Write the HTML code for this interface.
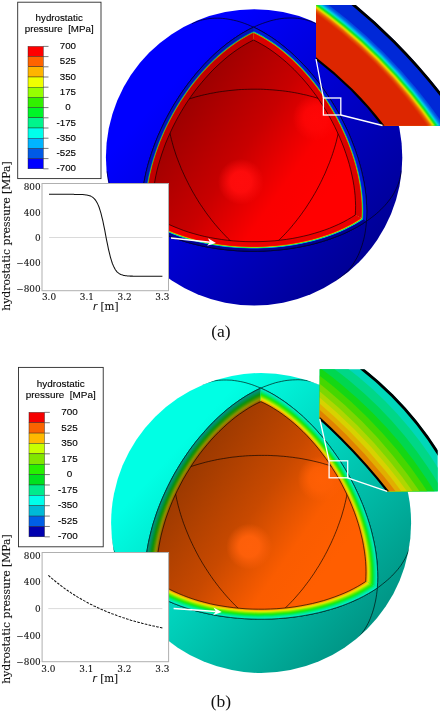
<!DOCTYPE html>
<html><head><meta charset="utf-8"><title>hydrostatic pressure</title>
<style>
html,body{margin:0;padding:0;background:#fff;}
svg{display:block;}
.sans{font-family:"Liberation Sans",sans-serif;fill:#000;stroke:#000;stroke-width:0.12px;}
.dserif{font-family:"DejaVu Serif","Liberation Serif",serif;fill:#111;stroke:#111;stroke-width:0.1px;}
.lserif{font-family:"Liberation Serif",serif;fill:#111;}
</style></head><body>
<svg width="440" height="713" viewBox="0 0 440 713">
<rect width="440" height="713" fill="#fff"/>
<linearGradient id="a_og" gradientUnits="userSpaceOnUse" x1="173" y1="83" x2="362" y2="256.6">
<stop offset="0" stop-color="#0000ff"/><stop offset="1" stop-color="#000096"/></linearGradient>
<clipPath id="a_sil"><circle cx="254.10" cy="157.40" r="148.20"/></clipPath>
<circle cx="254.10" cy="157.40" r="148.20" fill="url(#a_og)"/>
<g clip-path="url(#a_sil)">
<path d="M191.9 23.7 193.9 22.8 196.1 21.9 198.2 21.1 200.5 20.4 202.7 19.8 205.1 19.3 207.4 18.9 209.9 18.5 212.3 18.3 214.8 18.2 217.4 18.2 220.0 18.2 222.6 18.4 225.3 18.7 228.0 19.1 230.7 19.6 233.5 20.2 236.3 20.8 239.1 21.6 242.0 22.5 244.8 23.5 247.7 24.6 250.6 25.9 253.6 27.2 256.5 28.6 259.5 30.1 262.4 31.7 265.4 33.5 268.4 35.3 271.3 37.2 274.3 39.2 277.3 41.3 280.2 43.6 283.2 45.9 286.1 48.3 289.0 50.8 291.9 53.3 294.8 56.0 297.7 58.8 300.5 61.6 303.3 64.5 306.1 67.5 308.8 70.6 311.5 73.7 314.2 76.9 316.8 80.2 319.4 83.5 321.9 86.9 324.4 90.4 326.8 93.9 329.2 97.5 331.5 101.1 333.8 104.8 336.0 108.5 338.1 112.2 340.2 116.0 342.2 119.8 344.1 123.6 346.0 127.5 347.8 131.4 349.5 135.2 351.1 139.2 352.7 143.1 354.2 147.0 355.6 150.9 356.9 154.8 358.2 158.8 359.3 162.7 360.4 166.6 361.4 170.5 362.3 174.3 363.2 178.2 363.9 182.0 364.6 185.8 365.1 189.5 365.6 193.2 366.0 196.9 366.3 200.5 366.6 204.1 366.7 207.6 366.8 211.1 366.7 214.6 366.6 217.9 366.4 221.2 366.2 224.5 365.8 227.7 365.4 230.8 364.9 233.9 364.3 236.9 363.6 239.8 362.8 242.6 362.0 245.4 361.1 248.0 360.1 250.7 359.1 253.2 358.0 255.6 356.8 258.0 355.5 260.2 354.2 262.4 352.8 264.5 351.4 266.5 349.9 268.5 348.3 270.3 346.7 272.0 345.0 273.7 343.3 275.2 341.5 276.7 339.6 278.1 337.8 279.4" fill="none" stroke="#000" stroke-opacity="0.90" stroke-width="0.70"/>
<path d="M401.2 170.6 401.0 172.8 400.6 175.0 400.2 177.3 399.7 179.5 399.0 181.7 398.3 183.9 397.4 186.2 396.4 188.4 395.3 190.6 394.2 192.8 392.9 195.0 391.5 197.1 389.9 199.3 388.3 201.4 386.6 203.5 384.8 205.6 382.8 207.6 380.8 209.7 378.7 211.7 376.4 213.7 374.1 215.6 371.6 217.5 369.1 219.4 366.4 221.2 363.7 223.0 360.9 224.8 358.0 226.5 354.9 228.2 351.8 229.8 348.7 231.4 345.4 232.9 342.0 234.4 338.6 235.8 335.1 237.2 331.5 238.5 327.9 239.8 324.1 241.0 320.4 242.1 316.5 243.2 312.6 244.2 308.7 245.2 304.7 246.0 300.6 246.9 296.5 247.6 292.4 248.3 288.2 248.9 284.0 249.5 279.8 249.9 275.5 250.3 271.3 250.7 267.0 250.9 262.7 251.1 258.4 251.2 254.1 251.3 249.8 251.3 245.4 251.2 241.1 251.0 236.9 250.8 232.6 250.4 228.3 250.1 224.1 249.6 219.9 249.1 215.7 248.5 211.6 247.8 207.5 247.1 203.5 246.3 199.5 245.4 195.5 244.5 191.6 243.5 187.8 242.4 184.0 241.3 180.3 240.1 176.6 238.9 173.1 237.6 169.5 236.2 166.1 234.8 162.8 233.4 159.5 231.9 156.3 230.3 153.2 228.7 150.2 227.0 147.3 225.3 144.4 223.6 141.7 221.8 139.1 220.0 136.5 218.1 134.1 216.2 131.7 214.3 129.5 212.3 127.4 210.3 125.3 208.3 123.4 206.2 121.6 204.2 119.8 202.1 118.2 199.9 116.7 197.8 115.3 195.6 114.0 193.5 112.8 191.3 111.8 189.1 110.8 186.9 109.9 184.7 109.2 182.4 108.5 180.2 108.0 178.0 107.5 175.8 107.2 173.5 107.0 171.3" fill="none" stroke="#000" stroke-opacity="0.90" stroke-width="0.70"/>
<path d="M169.0 278.5 167.2 277.1 165.4 275.7 163.6 274.1 161.9 272.5 160.3 270.7 158.7 268.9 157.2 267.0 155.7 265.0 154.3 262.9 153.0 260.7 151.7 258.5 150.5 256.1 149.3 253.7 148.3 251.2 147.3 248.6 146.3 245.9 145.5 243.1 144.7 240.3 144.0 237.4 143.4 234.4 142.9 231.4 142.4 228.2 142.0 225.0 141.7 221.8 141.5 218.5 141.4 215.1 141.3 211.7 141.3 208.2 141.5 204.7 141.7 201.1 142.0 197.4 142.3 193.8 142.8 190.1 143.3 186.3 144.0 182.5 144.7 178.7 145.5 174.9 146.4 171.0 147.4 167.1 148.4 163.2 149.5 159.3 150.8 155.4 152.1 151.4 153.5 147.5 154.9 143.6 156.5 139.7 158.1 135.7 159.8 131.8 161.6 128.0 163.4 124.1 165.3 120.2 167.3 116.4 169.3 112.6 171.5 108.9 173.6 105.2 175.9 101.5 178.2 97.9 180.5 94.3 182.9 90.8 185.4 87.3 187.9 83.9 190.5 80.5 193.1 77.2 195.7 74.0 198.4 70.9 201.1 67.8 203.9 64.8 206.7 61.8 209.5 59.0 212.4 56.2 215.2 53.5 218.1 50.9 221.1 48.4 224.0 46.0 226.9 43.7 229.9 41.5 232.8 39.3 235.8 37.3 238.8 35.4 241.7 33.5 244.7 31.8 247.7 30.1 250.6 28.6 253.6 27.2 256.5 25.8 259.4 24.6 262.3 23.5 265.2 22.5 268.0 21.6 270.9 20.7 273.7 20.0 276.5 19.4 279.2 18.9 281.9 18.5 284.6 18.2 287.2 18.1 289.8 18.0 292.4 18.0 294.9 18.1 297.4 18.3 299.8 18.6 302.2 19.0 304.6 19.5 306.8 20.1 309.1 20.8 311.3 21.6 313.4 22.4 315.5 23.4" fill="none" stroke="#000" stroke-opacity="0.90" stroke-width="0.70"/>
<path d="M253.6 27.2 249.0 29.4 244.5 31.9 239.9 34.6 235.4 37.6 230.8 40.8 226.2 44.2 221.7 47.9 217.2 51.7 212.8 55.8 208.4 60.1 204.1 64.5 199.9 69.2 195.7 74.0 191.7 79.0 187.7 84.1 183.9 89.4 180.2 94.8 176.6 100.4 173.1 106.0 169.8 111.8 166.7 117.6 163.7 123.5 160.9 129.4 158.2 135.4 155.7 141.5 153.5 147.5 151.4 153.6 149.5 159.6 147.7 165.6 146.2 171.6 144.9 177.5 143.8 183.4 142.9 189.2 142.2 194.9 141.7 200.5 141.4 206.0 141.3 211.4 141.4 216.7 141.7 221.8 146.0 224.5 150.4 227.2 155.1 229.7 160.0 232.1 165.1 234.4 170.3 236.6 175.8 238.6 181.4 240.5 187.2 242.3 193.1 243.9 199.2 245.3 205.3 246.7 211.6 247.8 218.0 248.8 224.4 249.6 230.9 250.3 237.5 250.8 244.1 251.1 250.7 251.3 257.4 251.3 264.0 251.1 270.6 250.7 277.2 250.2 283.7 249.5 290.2 248.6 296.5 247.6 302.8 246.4 309.0 245.1 315.0 243.6 321.0 241.9 326.7 240.2 332.3 238.2 337.8 236.2 343.1 234.0 348.2 231.6 353.0 229.2 357.7 226.7 362.2 224.0 366.4 221.2 366.7 216.1 366.8 210.9 366.6 205.5 366.3 200.0 365.8 194.3 365.0 188.6 364.1 182.8 362.9 177.0 361.6 171.1 360.0 165.1 358.3 159.1 356.3 153.0 354.2 147.0 351.9 141.0 349.4 134.9 346.7 129.0 343.8 123.0 340.8 117.1 337.6 111.3 334.3 105.6 330.8 100.0 327.2 94.5 323.5 89.1 319.6 83.8 315.6 78.7 311.5 73.7 307.4 68.9 303.1 64.3 298.8 59.8 294.4 55.6 289.9 51.5 285.4 47.7 280.9 44.1 276.4 40.7 271.8 37.5 267.2 34.6 262.7 31.9 258.1 29.4Z" fill="rgb(0,25,215)"/>
<path d="M254.1 157.7 253.6 27.2 249.0 29.4 244.5 31.9 239.9 34.6 235.4 37.6 230.8 40.8 226.2 44.2 221.7 47.9 217.2 51.7 212.8 55.8 208.4 60.1 204.1 64.5 199.9 69.2 195.7 74.0 191.7 79.0 187.7 84.1 183.9 89.4 180.2 94.8 176.6 100.4 173.1 106.0 169.8 111.8 166.7 117.6 163.7 123.5 160.9 129.4 158.2 135.4 155.7 141.5 153.5 147.5 151.4 153.6 149.5 159.6 147.7 165.6 146.2 171.6 144.9 177.5 143.8 183.4 142.9 189.2 142.2 194.9 141.7 200.5 141.4 206.0 141.3 211.4 141.4 216.7 141.7 221.8Z" fill="rgb(0,19,189)"/>
<path d="M254.1 157.7 253.6 30.4 249.2 32.6 244.7 35.1 240.3 37.7 235.8 40.6 231.4 43.8 227.0 47.1 222.5 50.7 218.2 54.4 213.9 58.4 209.6 62.6 205.4 66.9 201.3 71.4 197.2 76.1 193.3 81.0 189.4 86.0 185.7 91.2 182.1 96.5 178.6 101.9 175.2 107.4 172.0 112.9 168.9 118.6 166.0 124.4 163.3 130.2 160.7 136.0 158.3 141.9 156.0 147.8 154.0 153.7 152.1 159.6 150.5 165.4 149.0 171.2 147.7 177.0 146.6 182.7 145.7 188.4 145.0 194.0 144.5 199.4 144.2 204.8 144.1 210.1 144.2 215.2 144.5 220.2Z" fill="rgb(0,23,187)"/>
<path d="M254.1 157.7 253.6 30.7 249.2 32.9 244.7 35.3 240.3 38.0 235.9 40.9 231.4 44.0 227.0 47.3 222.6 50.9 218.3 54.6 213.9 58.6 209.7 62.8 205.5 67.1 201.4 71.6 197.3 76.3 193.4 81.2 189.6 86.2 185.8 91.3 182.2 96.6 178.7 102.0 175.4 107.5 172.2 113.0 169.1 118.7 166.2 124.4 163.5 130.2 160.9 136.1 158.5 141.9 156.3 147.8 154.2 153.7 152.4 159.5 150.7 165.4 149.2 171.2 147.9 177.0 146.8 182.7 146.0 188.3 145.3 193.9 144.8 199.4 144.5 204.7 144.4 210.0 144.5 215.1 144.7 220.1Z" fill="rgb(0,28,186)"/>
<path d="M254.1 157.7 253.6 31.0 249.2 33.1 244.8 35.6 240.3 38.2 235.9 41.1 231.5 44.2 227.1 47.6 222.7 51.1 218.3 54.9 214.0 58.8 209.8 63.0 205.6 67.3 201.5 71.8 197.5 76.5 193.5 81.3 189.7 86.3 186.0 91.5 182.4 96.7 178.9 102.1 175.5 107.6 172.3 113.1 169.3 118.8 166.4 124.5 163.7 130.3 161.1 136.1 158.7 142.0 156.5 147.8 154.4 153.7 152.6 159.5 150.9 165.4 149.4 171.2 148.2 176.9 147.1 182.6 146.2 188.3 145.5 193.8 145.0 199.3 144.7 204.6 144.6 209.8 144.7 215.0 145.0 219.9Z" fill="rgb(0,40,183)"/>
<path d="M254.1 157.7 253.6 31.2 249.2 33.4 244.8 35.8 240.4 38.5 235.9 41.4 231.5 44.5 227.1 47.8 222.8 51.3 218.4 55.1 214.1 59.0 209.9 63.2 205.7 67.5 201.6 72.0 197.6 76.7 193.7 81.5 189.8 86.5 186.1 91.6 182.5 96.9 179.1 102.2 175.7 107.7 172.5 113.2 169.5 118.9 166.6 124.6 163.9 130.3 161.3 136.2 158.9 142.0 156.7 147.8 154.6 153.7 152.8 159.5 151.1 165.4 149.7 171.2 148.4 176.9 147.3 182.6 146.4 188.2 145.7 193.7 145.2 199.2 144.9 204.5 144.8 209.7 144.9 214.8 145.2 219.8Z" fill="rgb(0,67,175)"/>
<path d="M254.1 157.7 253.6 31.5 249.2 33.7 244.8 36.1 240.4 38.7 236.0 41.6 231.6 44.7 227.2 48.0 222.8 51.6 218.5 55.3 214.2 59.3 210.0 63.4 205.8 67.7 201.7 72.2 197.7 76.9 193.8 81.7 190.0 86.7 186.3 91.8 182.7 97.0 179.2 102.3 175.9 107.8 172.7 113.3 169.7 119.0 166.8 124.7 164.0 130.4 161.5 136.2 159.1 142.0 156.9 147.9 154.9 153.7 153.0 159.5 151.4 165.3 149.9 171.1 148.6 176.9 147.5 182.5 146.7 188.1 146.0 193.7 145.5 199.1 145.2 204.4 145.1 209.6 145.2 214.7 145.4 219.7Z" fill="rgb(0,121,190)"/>
<path d="M254.1 157.7 253.6 31.8 249.2 33.9 244.8 36.4 240.4 39.0 236.0 41.9 231.6 45.0 227.2 48.3 222.9 51.8 218.6 55.5 214.3 59.5 210.1 63.6 205.9 67.9 201.8 72.4 197.8 77.0 193.9 81.8 190.1 86.8 186.4 91.9 182.8 97.1 179.4 102.5 176.1 107.9 172.9 113.4 169.8 119.1 167.0 124.7 164.2 130.5 161.7 136.2 159.3 142.1 157.1 147.9 155.1 153.7 153.2 159.5 151.6 165.3 150.1 171.1 148.8 176.8 147.8 182.5 146.9 188.1 146.2 193.6 145.7 199.0 145.4 204.3 145.3 209.5 145.4 214.6 145.7 219.5Z" fill="rgb(0,192,164)"/>
<path d="M254.1 157.7 253.6 32.0 249.2 34.2 244.8 36.6 240.5 39.3 236.1 42.1 231.7 45.2 227.3 48.5 223.0 52.0 218.6 55.8 214.4 59.7 210.2 63.8 206.0 68.1 202.0 72.6 198.0 77.2 194.1 82.0 190.3 87.0 186.6 92.0 183.0 97.3 179.6 102.6 176.2 108.0 173.1 113.5 170.0 119.1 167.2 124.8 164.4 130.5 161.9 136.3 159.5 142.1 157.3 147.9 155.3 153.7 153.5 159.5 151.8 165.3 150.3 171.1 149.1 176.8 148.0 182.4 147.1 188.0 146.4 193.5 145.9 198.9 145.6 204.2 145.5 209.4 145.6 214.5 145.9 219.4Z" fill="rgb(11,185,21)"/>
<path d="M254.1 157.7 253.6 32.3 249.2 34.5 244.9 36.9 240.5 39.5 236.1 42.4 231.7 45.5 227.4 48.8 223.0 52.3 218.7 56.0 214.5 59.9 210.3 64.0 206.1 68.3 202.1 72.8 198.1 77.4 194.2 82.2 190.4 87.1 186.7 92.2 183.2 97.4 179.7 102.7 176.4 108.1 173.2 113.6 170.2 119.2 167.4 124.9 164.6 130.6 162.1 136.3 159.7 142.1 157.5 147.9 155.5 153.7 153.7 159.5 152.0 165.3 150.6 171.0 149.3 176.7 148.2 182.4 147.3 187.9 146.7 193.4 146.2 198.8 145.9 204.1 145.8 209.3 145.8 214.3 146.1 219.3Z" fill="rgb(151,194,0)"/>
<path d="M254.1 157.7 253.6 32.6 249.2 34.7 244.9 37.1 240.5 39.8 236.1 42.6 231.8 45.7 227.4 49.0 223.1 52.5 218.8 56.2 214.6 60.1 210.4 64.2 206.2 68.5 202.2 72.9 198.2 77.6 194.3 82.3 190.5 87.3 186.9 92.3 183.3 97.5 179.9 102.8 176.6 108.2 173.4 113.7 170.4 119.3 167.5 125.0 164.8 130.7 162.3 136.4 159.9 142.2 157.7 147.9 155.7 153.7 153.9 159.5 152.3 165.3 150.8 171.0 149.5 176.7 148.5 182.3 147.6 187.9 146.9 193.3 146.4 198.7 146.1 204.0 146.0 209.2 146.1 214.2 146.4 219.1Z" fill="rgb(194,120,0)"/>
<path d="M254.1 157.7 253.6 32.8 249.3 35.0 244.9 37.4 240.5 40.0 236.2 42.9 231.8 45.9 227.5 49.2 223.2 52.7 218.9 56.4 214.6 60.3 210.5 64.4 206.3 68.7 202.3 73.1 198.3 77.7 194.5 82.5 190.7 87.4 187.0 92.5 183.5 97.7 180.0 103.0 176.8 108.3 173.6 113.8 170.6 119.4 167.7 125.0 165.0 130.7 162.5 136.4 160.1 142.2 158.0 148.0 155.9 153.7 154.1 159.5 152.5 165.3 151.0 171.0 149.8 176.6 148.7 182.3 147.8 187.8 147.1 193.3 146.6 198.6 146.3 203.9 146.2 209.1 146.3 214.1 146.6 219.0Z" fill="rgb(194,50,0)"/>
<path d="M254.1 157.7 253.6 33.1 249.3 35.3 244.9 37.7 240.6 40.3 236.2 43.1 231.9 46.2 227.5 49.5 223.2 53.0 219.0 56.7 214.7 60.5 210.6 64.6 206.5 68.9 202.4 73.3 198.5 77.9 194.6 82.7 190.8 87.6 187.2 92.6 183.6 97.8 180.2 103.1 176.9 108.5 173.8 113.9 170.8 119.5 167.9 125.1 165.2 130.8 162.7 136.5 160.4 142.2 158.2 148.0 156.2 153.8 154.3 159.5 152.7 165.2 151.3 170.9 150.0 176.6 148.9 182.2 148.0 187.7 147.4 193.2 146.9 198.5 146.6 203.8 146.5 209.0 146.5 214.0 146.8 218.9Z" fill="rgb(194,10,0)"/>
<path d="M254.1 157.7 253.6 33.4 249.3 35.5 244.9 37.9 240.6 40.5 236.3 43.4 231.9 46.4 227.6 49.7 223.3 53.2 219.0 56.9 214.8 60.8 210.7 64.8 206.6 69.1 202.5 73.5 198.6 78.1 194.7 82.9 191.0 87.7 187.3 92.8 183.8 97.9 180.4 103.2 177.1 108.6 174.0 114.0 171.0 119.6 168.1 125.2 165.4 130.8 162.9 136.5 160.6 142.3 158.4 148.0 156.4 153.8 154.6 159.5 152.9 165.2 151.5 170.9 150.2 176.6 149.2 182.1 148.3 187.7 147.6 193.1 147.1 198.5 146.8 203.7 146.7 208.8 146.8 213.9 147.1 218.7Z" fill="rgb(194,0,0)"/>
<path d="M254.1 157.7 253.6 27.2 258.1 29.4 262.7 31.9 267.2 34.6 271.8 37.5 276.4 40.7 280.9 44.1 285.4 47.7 289.9 51.5 294.4 55.6 298.8 59.8 303.1 64.3 307.4 68.9 311.5 73.7 315.6 78.7 319.6 83.8 323.5 89.1 327.2 94.5 330.8 100.0 334.3 105.6 337.6 111.3 340.8 117.1 343.8 123.0 346.7 129.0 349.4 134.9 351.9 141.0 354.2 147.0 356.3 153.0 358.3 159.1 360.0 165.1 361.6 171.1 362.9 177.0 364.1 182.8 365.0 188.6 365.8 194.3 366.3 200.0 366.6 205.5 366.8 210.9 366.7 216.1 366.4 221.2Z" fill="rgb(0,25,215)"/>
<path d="M254.1 157.7 253.6 31.0 258.0 33.1 262.4 35.5 266.8 38.2 271.3 41.0 275.7 44.1 280.1 47.4 284.5 51.0 288.9 54.7 293.2 58.6 297.4 62.7 301.6 67.1 305.8 71.5 309.8 76.2 313.8 81.0 317.6 86.0 321.4 91.1 325.0 96.3 328.5 101.7 331.9 107.2 335.1 112.7 338.2 118.4 341.1 124.1 343.9 129.8 346.5 135.6 348.9 141.5 351.2 147.3 353.3 153.2 355.2 159.0 356.9 164.9 358.4 170.7 359.7 176.4 360.8 182.1 361.7 187.7 362.5 193.3 363.0 198.7 363.3 204.1 363.5 209.3 363.4 214.4 363.2 219.4Z" fill="rgb(0,59,203)"/>
<path d="M254.1 157.7 253.6 31.2 258.0 33.4 262.4 35.8 266.8 38.4 271.2 41.3 275.7 44.4 280.1 47.7 284.4 51.2 288.8 54.9 293.1 58.8 297.3 62.9 301.5 67.3 305.7 71.7 309.7 76.4 313.6 81.2 317.5 86.2 321.2 91.3 324.9 96.5 328.3 101.8 331.7 107.3 334.9 112.8 338.0 118.4 340.9 124.1 343.7 129.9 346.3 135.7 348.7 141.5 351.0 147.3 353.1 153.2 354.9 159.0 356.6 164.8 358.1 170.6 359.5 176.4 360.6 182.0 361.5 187.7 362.2 193.2 362.8 198.6 363.1 204.0 363.3 209.2 363.2 214.3 363.0 219.3Z" fill="rgb(0,97,203)"/>
<path d="M254.1 157.7 253.6 31.5 258.0 33.7 262.4 36.1 266.8 38.7 271.2 41.5 275.6 44.6 280.0 47.9 284.4 51.4 288.7 55.1 293.0 59.0 297.3 63.2 301.4 67.4 305.5 71.9 309.6 76.6 313.5 81.4 317.3 86.3 321.1 91.4 324.7 96.6 328.2 101.9 331.5 107.4 334.8 112.9 337.8 118.5 340.8 124.2 343.5 129.9 346.1 135.7 348.5 141.5 350.8 147.4 352.8 153.2 354.7 159.0 356.4 164.8 357.9 170.6 359.2 176.3 360.4 182.0 361.3 187.6 362.0 193.1 362.5 198.5 362.9 203.9 363.0 209.1 363.0 214.2 362.7 219.1Z" fill="rgb(0,162,217)"/>
<path d="M254.1 157.7 253.6 31.8 258.0 33.9 262.3 36.3 266.8 38.9 271.2 41.8 275.6 44.9 279.9 48.1 284.3 51.6 288.6 55.4 292.9 59.3 297.2 63.4 301.3 67.6 305.4 72.1 309.4 76.7 313.4 81.5 317.2 86.5 320.9 91.5 324.5 96.8 328.0 102.1 331.4 107.5 334.6 113.0 337.7 118.6 340.6 124.3 343.3 130.0 345.9 135.8 348.3 141.6 350.6 147.4 352.6 153.2 354.5 159.0 356.2 164.8 357.7 170.6 359.0 176.3 360.1 181.9 361.0 187.5 361.8 193.0 362.3 198.5 362.6 203.8 362.8 209.0 362.7 214.1 362.5 219.0Z" fill="rgb(0,215,161)"/>
<path d="M254.1 157.7 253.6 32.0 257.9 34.2 262.3 36.6 266.7 39.2 271.1 42.0 275.5 45.1 279.9 48.4 284.2 51.9 288.6 55.6 292.8 59.5 297.1 63.6 301.2 67.8 305.3 72.3 309.3 76.9 313.2 81.7 317.1 86.6 320.8 91.7 324.4 96.9 327.9 102.2 331.2 107.6 334.4 113.1 337.5 118.7 340.4 124.4 343.1 130.1 345.7 135.8 348.1 141.6 350.3 147.4 352.4 153.2 354.3 159.0 356.0 164.8 357.5 170.5 358.8 176.2 359.9 181.9 360.8 187.5 361.5 193.0 362.1 198.4 362.4 203.7 362.5 208.9 362.5 213.9 362.3 218.9Z" fill="rgb(15,209,22)"/>
<path d="M254.1 157.7 253.6 32.3 257.9 34.4 262.3 36.8 266.7 39.4 271.1 42.3 275.5 45.3 279.8 48.6 284.2 52.1 288.5 55.8 292.8 59.7 297.0 63.8 301.1 68.0 305.2 72.5 309.2 77.1 313.1 81.9 316.9 86.8 320.6 91.8 324.2 97.0 327.7 102.3 331.0 107.7 334.2 113.2 337.3 118.8 340.2 124.4 342.9 130.1 345.5 135.9 347.9 141.6 350.1 147.4 352.2 153.2 354.1 159.0 355.7 164.8 357.2 170.5 358.5 176.2 359.7 181.8 360.6 187.4 361.3 192.9 361.8 198.3 362.2 203.6 362.3 208.8 362.3 213.8 362.0 218.7Z" fill="rgb(154,219,0)"/>
<path d="M254.1 157.7 253.6 32.6 257.9 34.7 262.3 37.1 266.7 39.7 271.0 42.5 275.4 45.6 279.8 48.9 284.1 52.3 288.4 56.0 292.7 59.9 296.9 64.0 301.0 68.2 305.1 72.7 309.1 77.3 313.0 82.0 316.8 86.9 320.5 92.0 324.1 97.2 327.5 102.4 330.9 107.8 334.1 113.3 337.1 118.9 340.0 124.5 342.7 130.2 345.3 135.9 347.7 141.7 349.9 147.5 352.0 153.2 353.8 159.0 355.5 164.8 357.0 170.5 358.3 176.2 359.4 181.8 360.3 187.3 361.1 192.8 361.6 198.2 361.9 203.5 362.1 208.6 362.0 213.7 361.8 218.6Z" fill="rgb(219,159,0)"/>
<path d="M254.1 157.7 253.6 32.8 257.9 35.0 262.3 37.4 266.6 40.0 271.0 42.8 275.4 45.8 279.7 49.1 284.0 52.6 288.3 56.2 292.6 60.1 296.8 64.2 300.9 68.4 305.0 72.9 309.0 77.5 312.9 82.2 316.7 87.1 320.3 92.1 323.9 97.3 327.4 102.6 330.7 107.9 333.9 113.4 336.9 119.0 339.8 124.6 342.5 130.3 345.1 136.0 347.5 141.7 349.7 147.5 351.8 153.2 353.6 159.0 355.3 164.7 356.8 170.5 358.1 176.1 359.2 181.7 360.1 187.3 360.8 192.7 361.4 198.1 361.7 203.4 361.8 208.5 361.8 213.6 361.6 218.5Z" fill="rgb(219,84,0)"/>
<path d="M254.1 157.7 253.6 33.1 257.9 35.2 262.3 37.6 266.6 40.2 271.0 43.0 275.3 46.1 279.7 49.3 284.0 52.8 288.3 56.5 292.5 60.3 296.7 64.4 300.8 68.6 304.9 73.1 308.8 77.6 312.7 82.4 316.5 87.3 320.2 92.3 323.8 97.4 327.2 102.7 330.5 108.1 333.7 113.5 336.7 119.0 339.6 124.7 342.3 130.3 344.9 136.0 347.3 141.8 349.5 147.5 351.5 153.3 353.4 159.0 355.1 164.7 356.6 170.4 357.9 176.1 359.0 181.7 359.9 187.2 360.6 192.7 361.1 198.0 361.5 203.3 361.6 208.4 361.6 213.5 361.3 218.4Z" fill="rgb(219,29,0)"/>
<path d="M254.1 157.7 253.6 33.4 257.9 35.5 262.2 37.9 266.6 40.5 270.9 43.3 275.3 46.3 279.6 49.6 283.9 53.0 288.2 56.7 292.4 60.6 296.6 64.6 300.7 68.8 304.8 73.2 308.7 77.8 312.6 82.5 316.4 87.4 320.0 92.4 323.6 97.6 327.0 102.8 330.3 108.2 333.5 113.6 336.5 119.1 339.4 124.7 342.1 130.4 344.7 136.1 347.1 141.8 349.3 147.5 351.3 153.3 353.2 159.0 354.9 164.7 356.3 170.4 357.6 176.0 358.7 181.6 359.6 187.1 360.4 192.6 360.9 197.9 361.2 203.2 361.4 208.3 361.3 213.3 361.1 218.2Z" fill="rgb(219,1,0)"/>
<path d="M254.1 157.7 141.7 221.8 146.0 224.5 150.4 227.2 155.1 229.7 160.0 232.1 165.1 234.4 170.3 236.6 175.8 238.6 181.4 240.5 187.2 242.3 193.1 243.9 199.2 245.3 205.3 246.7 211.6 247.8 218.0 248.8 224.4 249.6 230.9 250.3 237.5 250.8 244.1 251.1 250.7 251.3 257.4 251.3 264.0 251.1 270.6 250.7 277.2 250.2 283.7 249.5 290.2 248.6 296.5 247.6 302.8 246.4 309.0 245.1 315.0 243.6 321.0 241.9 326.7 240.2 332.3 238.2 337.8 236.2 343.1 234.0 348.2 231.6 353.0 229.2 357.7 226.7 362.2 224.0 366.4 221.2Z" fill="rgb(0,0,150)"/>
<path d="M254.1 157.7 145.0 219.9 149.1 222.6 153.4 225.1 158.0 227.6 162.8 229.9 167.7 232.1 172.8 234.2 178.1 236.2 183.6 238.1 189.2 239.8 194.9 241.3 200.8 242.7 206.8 244.0 212.9 245.1 219.1 246.1 225.3 246.9 231.6 247.5 238.0 248.0 244.4 248.3 250.8 248.5 257.3 248.4 263.7 248.3 270.1 247.9 276.5 247.4 282.8 246.7 289.1 245.9 295.3 244.9 301.4 243.8 307.3 242.5 313.2 241.0 319.0 239.4 324.6 237.7 330.0 235.8 335.3 233.8 340.4 231.7 345.4 229.5 350.1 227.1 354.7 224.6 359.1 222.1 363.2 219.4Z" fill="rgb(0,98,218)"/>
<path d="M254.1 157.7 145.2 219.8 149.3 222.4 153.7 225.0 158.2 227.4 163.0 229.8 167.9 232.0 173.0 234.1 178.3 236.0 183.7 237.9 189.3 239.6 195.0 241.1 200.9 242.5 206.9 243.8 213.0 244.9 219.1 245.9 225.4 246.7 231.7 247.3 238.0 247.8 244.4 248.1 250.9 248.3 257.3 248.2 263.7 248.1 270.1 247.7 276.4 247.2 282.8 246.5 289.0 245.7 295.2 244.7 301.3 243.6 307.2 242.3 313.1 240.9 318.8 239.3 324.4 237.5 329.9 235.7 335.1 233.7 340.3 231.6 345.2 229.3 349.9 227.0 354.5 224.5 358.8 221.9 363.0 219.3Z" fill="rgb(0,148,232)"/>
<path d="M254.1 157.7 145.4 219.7 149.5 222.3 153.9 224.8 158.4 227.3 163.1 229.6 168.1 231.8 173.2 233.9 178.4 235.9 183.9 237.7 189.5 239.4 195.2 241.0 201.0 242.4 207.0 243.6 213.1 244.7 219.2 245.7 225.4 246.5 231.7 247.1 238.1 247.6 244.5 247.9 250.9 248.1 257.3 248.0 263.7 247.9 270.0 247.5 276.4 247.0 282.7 246.4 288.9 245.5 295.1 244.5 301.1 243.4 307.1 242.1 313.0 240.7 318.7 239.1 324.3 237.4 329.7 235.5 335.0 233.5 340.1 231.4 345.0 229.2 349.7 226.8 354.3 224.4 358.6 221.8 362.7 219.1Z" fill="rgb(0,215,224)"/>
<path d="M254.1 157.7 145.7 219.5 149.8 222.2 154.1 224.7 158.6 227.1 163.3 229.5 168.3 231.7 173.3 233.7 178.6 235.7 184.0 237.5 189.6 239.2 195.3 240.8 201.1 242.2 207.1 243.4 213.1 244.5 219.3 245.5 225.5 246.3 231.8 246.9 238.1 247.4 244.5 247.7 250.9 247.9 257.3 247.8 263.6 247.7 270.0 247.3 276.3 246.8 282.6 246.2 288.8 245.3 295.0 244.3 301.0 243.2 307.0 241.9 312.8 240.5 318.5 238.9 324.1 237.2 329.5 235.3 334.8 233.3 339.9 231.2 344.8 229.0 349.5 226.7 354.1 224.2 358.4 221.7 362.5 219.0Z" fill="rgb(0,228,136)"/>
<path d="M254.1 157.7 145.9 219.4 150.0 222.0 154.3 224.6 158.8 227.0 163.5 229.3 168.4 231.5 173.5 233.6 178.8 235.5 184.2 237.4 189.7 239.0 195.4 240.6 201.3 242.0 207.2 243.2 213.2 244.4 219.4 245.3 225.6 246.1 231.8 246.7 238.1 247.2 244.5 247.5 250.9 247.7 257.3 247.6 263.6 247.5 270.0 247.1 276.3 246.6 282.6 246.0 288.8 245.1 294.9 244.2 300.9 243.0 306.9 241.7 312.7 240.3 318.4 238.7 324.0 237.0 329.4 235.2 334.6 233.2 339.7 231.1 344.6 228.9 349.3 226.5 353.8 224.1 358.2 221.5 362.3 218.9Z" fill="rgb(21,226,20)"/>
<path d="M254.1 157.7 146.1 219.3 150.2 221.9 154.5 224.4 159.0 226.8 163.7 229.1 168.6 231.3 173.7 233.4 178.9 235.4 184.3 237.2 189.9 238.9 195.6 240.4 201.4 241.8 207.3 243.1 213.3 244.2 219.4 245.1 225.6 245.9 231.9 246.5 238.2 247.0 244.5 247.3 250.9 247.5 257.2 247.5 263.6 247.3 269.9 246.9 276.2 246.4 282.5 245.8 288.7 244.9 294.8 244.0 300.8 242.8 306.8 241.6 312.6 240.1 318.3 238.6 323.8 236.8 329.2 235.0 334.4 233.0 339.5 230.9 344.4 228.7 349.1 226.4 353.6 223.9 357.9 221.4 362.0 218.7Z" fill="rgb(141,237,0)"/>
<path d="M254.1 157.7 146.4 219.1 150.4 221.8 154.7 224.3 159.2 226.7 163.9 229.0 168.8 231.2 173.9 233.2 179.1 235.2 184.5 237.0 190.0 238.7 195.7 240.2 201.5 241.6 207.4 242.9 213.4 244.0 219.5 244.9 225.7 245.7 231.9 246.3 238.2 246.8 244.5 247.1 250.9 247.3 257.2 247.3 263.6 247.1 269.9 246.7 276.2 246.2 282.4 245.6 288.6 244.8 294.7 243.8 300.7 242.6 306.6 241.4 312.4 239.9 318.1 238.4 323.7 236.7 329.0 234.8 334.3 232.9 339.3 230.8 344.2 228.5 348.9 226.2 353.4 223.8 357.7 221.3 361.8 218.6Z" fill="rgb(229,209,0)"/>
<path d="M254.1 157.7 146.6 219.0 150.7 221.6 155.0 224.1 159.4 226.5 164.1 228.8 169.0 231.0 174.0 233.1 179.3 235.0 184.6 236.8 190.2 238.5 195.8 240.0 201.6 241.4 207.5 242.7 213.5 243.8 219.6 244.7 225.8 245.5 232.0 246.1 238.3 246.6 244.6 246.9 250.9 247.1 257.2 247.1 263.6 246.9 269.9 246.5 276.1 246.0 282.4 245.4 288.5 244.6 294.6 243.6 300.6 242.5 306.5 241.2 312.3 239.8 318.0 238.2 323.5 236.5 328.9 234.7 334.1 232.7 339.1 230.6 344.0 228.4 348.7 226.1 353.2 223.6 357.5 221.1 361.6 218.5Z" fill="rgb(237,133,0)"/>
<path d="M254.1 157.7 146.8 218.9 150.9 221.5 155.2 224.0 159.6 226.4 164.3 228.7 169.2 230.9 174.2 232.9 179.4 234.8 184.8 236.7 190.3 238.3 195.9 239.9 201.7 241.2 207.6 242.5 213.6 243.6 219.7 244.5 225.8 245.3 232.0 245.9 238.3 246.4 244.6 246.7 250.9 246.9 257.2 246.9 263.5 246.7 269.8 246.3 276.1 245.8 282.3 245.2 288.5 244.4 294.5 243.4 300.5 242.3 306.4 241.0 312.2 239.6 317.8 238.0 323.3 236.3 328.7 234.5 333.9 232.5 339.0 230.4 343.8 228.2 348.5 225.9 353.0 223.5 357.3 221.0 361.3 218.4Z" fill="rgb(237,75,0)"/>
<path d="M254.1 157.7 147.1 218.7 151.1 221.3 155.4 223.8 159.9 226.2 164.5 228.5 169.4 230.7 174.4 232.7 179.6 234.7 184.9 236.5 190.4 238.1 196.1 239.7 201.8 241.1 207.7 242.3 213.7 243.4 219.7 244.3 225.9 245.1 232.1 245.7 238.3 246.2 244.6 246.5 250.9 246.7 257.2 246.7 263.5 246.5 269.8 246.1 276.0 245.6 282.2 245.0 288.4 244.2 294.4 243.2 300.4 242.1 306.3 240.8 312.1 239.4 317.7 237.8 323.2 236.1 328.5 234.3 333.7 232.4 338.8 230.3 343.6 228.1 348.3 225.8 352.8 223.4 357.0 220.8 361.1 218.2Z" fill="rgb(237,31,0)"/>
<path d="M254.1 157.7 147.3 218.6 151.3 221.2 155.6 223.7 160.1 226.1 164.7 228.4 169.6 230.5 174.6 232.6 179.8 234.5 185.1 236.3 190.6 238.0 196.2 239.5 202.0 240.9 207.8 242.1 213.8 243.2 219.8 244.1 225.9 244.9 232.1 245.5 238.4 246.0 244.6 246.3 250.9 246.5 257.2 246.5 263.5 246.3 269.8 245.9 276.0 245.4 282.2 244.8 288.3 244.0 294.4 243.0 300.3 241.9 306.2 240.6 311.9 239.2 317.6 237.7 323.0 236.0 328.4 234.2 333.6 232.2 338.6 230.1 343.4 227.9 348.1 225.6 352.6 223.2 356.8 220.7 360.9 218.1Z" fill="rgb(237,5,0)"/>
<path d="M254.1 157.7 147.5 218.5 151.6 221.1 155.8 223.6 160.3 225.9 164.9 228.2 169.7 230.4 174.7 232.4 179.9 234.3 185.2 236.1 190.7 237.8 196.3 239.3 202.1 240.7 207.9 241.9 213.9 243.0 219.9 243.9 226.0 244.7 232.2 245.4 238.4 245.8 244.6 246.1 250.9 246.3 257.2 246.3 263.5 246.1 269.7 245.7 276.0 245.2 282.1 244.6 288.2 243.8 294.3 242.8 300.2 241.7 306.1 240.4 311.8 239.0 317.4 237.5 322.9 235.8 328.2 234.0 333.4 232.0 338.4 230.0 343.2 227.8 347.9 225.5 352.3 223.1 356.6 220.6 360.6 218.0Z" fill="rgb(237,0,0)"/>
<clipPath id="a_clip"><path d="M253.6 40.0 249.5 42.1 245.4 44.4 241.3 46.9 237.2 49.6 233.1 52.5 229.0 55.6 225.0 58.9 221.0 62.4 217.0 66.1 213.0 69.9 209.2 74.0 205.4 78.2 201.7 82.5 198.0 87.0 194.5 91.6 191.0 96.4 187.7 101.2 184.5 106.2 181.4 111.3 178.4 116.5 175.6 121.7 172.9 127.0 170.4 132.3 168.0 137.7 165.7 143.1 163.7 148.5 161.8 154.0 160.1 159.4 158.5 164.8 157.1 170.2 155.9 175.5 154.9 180.8 154.1 186.0 153.4 191.2 152.9 196.2 152.6 201.2 152.5 206.1 152.6 210.8 152.8 215.5 156.7 217.9 160.7 220.3 165.0 222.5 169.4 224.7 174.0 226.7 178.8 228.6 183.7 230.5 188.7 232.2 193.9 233.7 199.3 235.2 204.7 236.5 210.3 237.6 215.9 238.6 221.6 239.5 227.4 240.3 233.3 240.9 239.2 241.3 245.1 241.6 251.1 241.7 257.0 241.7 263.0 241.5 268.9 241.2 274.8 240.8 280.7 240.1 286.5 239.4 292.2 238.5 297.9 237.4 303.4 236.2 308.9 234.9 314.2 233.4 319.4 231.8 324.5 230.1 329.4 228.3 334.1 226.3 338.7 224.3 343.2 222.1 347.4 219.8 351.5 217.4 355.3 215.0 355.5 210.3 355.6 205.6 355.4 200.7 355.1 195.7 354.6 190.7 353.9 185.5 353.0 180.3 351.9 175.0 350.7 169.7 349.3 164.3 347.7 158.9 345.9 153.5 344.0 148.1 341.9 142.7 339.7 137.3 337.2 131.9 334.7 126.6 332.0 121.3 329.1 116.1 326.1 110.9 323.0 105.9 319.7 100.9 316.4 96.0 312.9 91.3 309.4 86.7 305.7 82.2 302.0 77.9 298.1 73.7 294.3 69.7 290.3 65.9 286.3 62.2 282.3 58.8 278.2 55.5 274.1 52.4 270.0 49.5 265.9 46.8 261.8 44.4 257.7 42.1Z"/></clipPath>
<g clip-path="url(#a_clip)">
<linearGradient id="a_ig" gradientUnits="userSpaceOnUse" x1="180.6" y1="90.9" x2="326.3" y2="194.0">
<stop offset="0" stop-color="#960000"/><stop offset="0.48" stop-color="#c80000"/><stop offset="0.78" stop-color="#fa0000"/><stop offset="1" stop-color="#ff0000"/></linearGradient>
<radialGradient id="a_h1" gradientUnits="userSpaceOnUse" cx="240.9" cy="181.8" r="23"><stop offset="0" stop-color="#ff0c0c"/><stop offset="0.45" stop-color="#ff0c0c" stop-opacity="0.95"/><stop offset="1" stop-color="#ff0c0c" stop-opacity="0"/></radialGradient>
<radialGradient id="a_h2" gradientUnits="userSpaceOnUse" cx="315.5" cy="118.0" r="23"><stop offset="0" stop-color="#ff0606"/><stop offset="0.5" stop-color="#ff0606" stop-opacity="0.85"/><stop offset="1" stop-color="#ff0606" stop-opacity="0"/></radialGradient>
<rect x="100" y="0" width="320" height="320" fill="url(#a_ig)"/>
<circle cx="240.9" cy="181.8" r="23" fill="url(#a_h1)"/><circle cx="315.5" cy="118.0" r="23" fill="url(#a_h2)"/>
<path d="M331.7 266.9 330.0 268.1 328.2 269.2 326.5 270.2 324.6 271.1 322.8 272.0 320.9 272.8 319.0 273.5 317.0 274.1 315.0 274.6 313.0 275.1 310.9 275.5 308.8 275.7 306.7 276.0 304.6 276.1 302.4 276.1 300.3 276.1 298.1 276.0 295.8 275.8 293.6 275.5 291.4 275.2 289.1 274.8 286.8 274.3 284.5 273.7 282.2 273.0 279.9 272.3 277.6 271.5 275.3 270.7 273.0 269.8 270.7 268.8 268.3 267.7 266.0 266.6 263.7 265.4 261.4 264.1 259.0 262.8 256.7 261.4 254.4 259.9 252.1 258.4 249.8 256.9 247.6 255.2 245.3 253.5 243.0 251.8 240.8 250.0 238.6 248.2 236.4 246.3 234.2 244.3 232.0 242.3 229.9 240.3 227.7 238.2 225.6 236.0 223.5 233.8 221.5 231.6 219.4 229.3 217.4 227.0 215.4 224.7 213.4 222.3 211.5 219.9 209.6 217.4 207.7 214.9 205.9 212.4 204.1 209.8 202.3 207.2 200.5 204.6 198.8 202.0 197.2 199.3 195.5 196.6 193.9 193.8 192.3 191.1 190.8 188.3 189.3 185.5 187.9 182.7 186.5 179.9 185.1 177.1 183.8 174.2 182.5 171.4 181.2 168.5 180.1 165.6 178.9 162.7 177.8 159.8 176.7 156.9 175.7 154.0 174.8 151.1 173.8 148.2 173.0 145.3 172.2 142.3 171.4 139.4 170.7 136.5 170.0 133.6 169.4 130.8 168.8 127.9 168.3 125.0 167.8 122.2 167.4 119.3 167.1 116.5 166.8 113.7 166.6 110.9 166.4 108.1 166.2 105.4 166.2 102.7 166.1 100.0 166.2 97.3 166.3 94.7 166.4 92.0 166.6 89.5 166.9 86.9 167.2 84.4 167.6 81.9 168.0 79.5 168.5 77.1 169.1 74.8 169.7 72.5 170.4 70.2 171.1 68.0 171.9 65.8 172.7 63.7 173.6 61.7 174.6 59.6 175.6 57.7 176.7 55.8 177.9 54.0 179.0 52.2 180.3 50.5 181.6 48.8 183.0 47.3 184.4 45.7 185.9 44.3 187.4 42.9 189.0 41.6 190.6 40.4 192.3 39.2 194.0 38.1 195.8 37.1 197.7 36.2 199.6 35.4" fill="none" stroke="#000" stroke-opacity="0.90" stroke-width="0.70"/>
<path d="M120.7 170.0 120.5 168.0 120.5 166.0 120.5 164.0 120.6 162.0 120.8 160.0 121.2 158.0 121.6 156.1 122.0 154.1 122.6 152.2 123.3 150.2 124.0 148.3 124.8 146.4 125.8 144.5 126.7 142.7 127.8 140.8 129.0 139.0 130.2 137.2 131.5 135.4 132.9 133.6 134.3 131.9 135.9 130.2 137.5 128.5 139.1 126.9 140.9 125.2 142.6 123.6 144.5 122.1 146.4 120.5 148.4 119.0 150.5 117.5 152.6 116.1 154.7 114.7 157.0 113.3 159.2 112.0 161.6 110.6 163.9 109.4 166.4 108.1 168.8 106.9 171.4 105.8 173.9 104.6 176.5 103.5 179.2 102.5 181.9 101.5 184.6 100.5 187.3 99.5 190.1 98.6 193.0 97.8 195.8 96.9 198.7 96.2 201.6 95.4 204.6 94.7 207.5 94.1 210.5 93.4 213.6 92.9 216.6 92.3 219.6 91.8 222.7 91.4 225.8 91.0 228.9 90.6 232.0 90.3 235.1 90.0 238.3 89.7 241.4 89.5 244.6 89.4 247.7 89.3 250.9 89.2 254.0 89.2 257.2 89.2 260.4 89.2 263.5 89.3 266.7 89.5 269.8 89.7 272.9 89.9 276.1 90.2 279.2 90.5 282.3 90.8 285.4 91.2 288.4 91.6 291.5 92.1 294.5 92.6 297.6 93.2 300.5 93.8 303.5 94.5 306.5 95.1 309.4 95.9 312.3 96.6 315.1 97.4 318.0 98.3 320.8 99.2 323.5 100.1 326.2 101.1 328.9 102.1 331.6 103.1 334.2 104.2 336.8 105.3 339.3 106.5 341.7 107.7 344.2 108.9 346.6 110.2 348.9 111.5 351.2 112.8 353.4 114.2 355.5 115.6 357.6 117.0 359.7 118.5 361.7 120.0 363.6 121.5 365.5 123.1 367.3 124.6 369.0 126.3 370.7 127.9 372.3 129.6 373.8 131.3 375.3 133.0 376.6 134.8 377.9 136.5 379.2 138.3 380.3 140.2 381.4 142.0 382.4 143.9 383.3 145.7 384.1 147.6 384.9 149.6 385.5 151.5 386.1 153.4 386.6 155.4 387.0 157.4 387.3 159.3 387.5 161.3 387.7 163.3 387.7 165.3 387.6 167.4 387.5 169.4" fill="none" stroke="#000" stroke-opacity="0.90" stroke-width="0.70"/>
<path d="M307.9 35.1 309.8 35.9 311.6 36.8 313.4 37.8 315.2 38.9 316.9 40.0 318.6 41.3 320.1 42.6 321.7 43.9 323.2 45.4 324.6 46.9 326.0 48.4 327.3 50.1 328.6 51.8 329.8 53.6 331.0 55.4 332.1 57.3 333.1 59.2 334.1 61.2 335.0 63.3 335.9 65.4 336.7 67.5 337.4 69.8 338.1 72.0 338.8 74.3 339.3 76.7 339.9 79.1 340.3 81.5 340.7 84.0 341.1 86.5 341.4 89.0 341.6 91.6 341.7 94.2 341.9 96.8 341.9 99.5 341.9 102.2 341.9 104.9 341.7 107.7 341.6 110.4 341.4 113.2 341.1 116.0 340.7 118.9 340.4 121.7 339.9 124.6 339.4 127.4 338.9 130.3 338.3 133.2 337.6 136.1 336.9 139.0 336.2 141.9 335.4 144.8 334.5 147.8 333.6 150.7 332.7 153.6 331.7 156.5 330.6 159.4 329.6 162.3 328.4 165.2 327.2 168.1 326.0 171.0 324.8 173.9 323.4 176.7 322.1 179.6 320.7 182.4 319.3 185.2 317.8 188.0 316.3 190.8 314.7 193.6 313.1 196.3 311.5 199.0 309.8 201.7 308.1 204.3 306.4 207.0 304.6 209.6 302.8 212.1 301.0 214.7 299.1 217.2 297.2 219.7 295.3 222.1 293.3 224.5 291.4 226.9 289.4 229.2 287.3 231.5 285.3 233.7 283.2 235.9 281.1 238.0 279.0 240.1 276.8 242.2 274.6 244.2 272.5 246.2 270.2 248.1 268.0 249.9 265.8 251.8 263.5 253.5 261.3 255.2 259.0 256.8 256.7 258.4 254.4 259.9 252.1 261.4 249.8 262.8 247.5 264.1 245.2 265.4 242.9 266.6 240.5 267.8 238.2 268.8 235.9 269.8 233.6 270.8 231.2 271.7 228.9 272.5 226.6 273.2 224.3 273.8 222.0 274.4 219.7 274.9 217.5 275.4 215.2 275.7 213.0 276.0 210.7 276.2 208.5 276.3 206.4 276.4 204.2 276.3 202.0 276.2 199.9 276.0 197.8 275.7 195.8 275.4 193.7 274.9 191.7 274.4 189.7 273.8 187.8 273.1 185.9 272.3 184.0 271.5 182.2 270.5 180.4 269.5 178.7 268.4 177.0 267.2" fill="none" stroke="#000" stroke-opacity="0.90" stroke-width="0.70"/>
</g>
<path d="M253.6 40.0 249.5 42.1 245.4 44.4 241.3 46.9 237.2 49.6 233.1 52.5 229.0 55.6 225.0 58.9 221.0 62.4 217.0 66.1 213.0 69.9 209.2 74.0 205.4 78.2 201.7 82.5 198.0 87.0 194.5 91.6 191.0 96.4 187.7 101.2 184.5 106.2 181.4 111.3 178.4 116.5 175.6 121.7 172.9 127.0 170.4 132.3 168.0 137.7 165.7 143.1 163.7 148.5 161.8 154.0 160.1 159.4 158.5 164.8 157.1 170.2 155.9 175.5 154.9 180.8 154.1 186.0 153.4 191.2 152.9 196.2 152.6 201.2 152.5 206.1 152.6 210.8 152.8 215.5 156.7 217.9 160.7 220.3 165.0 222.5 169.4 224.7 174.0 226.7 178.8 228.6 183.7 230.5 188.7 232.2 193.9 233.7 199.3 235.2 204.7 236.5 210.3 237.6 215.9 238.6 221.6 239.5 227.4 240.3 233.3 240.9 239.2 241.3 245.1 241.6 251.1 241.7 257.0 241.7 263.0 241.5 268.9 241.2 274.8 240.8 280.7 240.1 286.5 239.4 292.2 238.5 297.9 237.4 303.4 236.2 308.9 234.9 314.2 233.4 319.4 231.8 324.5 230.1 329.4 228.3 334.1 226.3 338.7 224.3 343.2 222.1 347.4 219.8 351.5 217.4 355.3 215.0 355.5 210.3 355.6 205.6 355.4 200.7 355.1 195.7 354.6 190.7 353.9 185.5 353.0 180.3 351.9 175.0 350.7 169.7 349.3 164.3 347.7 158.9 345.9 153.5 344.0 148.1 341.9 142.7 339.7 137.3 337.2 131.9 334.7 126.6 332.0 121.3 329.1 116.1 326.1 110.9 323.0 105.9 319.7 100.9 316.4 96.0 312.9 91.3 309.4 86.7 305.7 82.2 302.0 77.9 298.1 73.7 294.3 69.7 290.3 65.9 286.3 62.2 282.3 58.8 278.2 55.5 274.1 52.4 270.0 49.5 265.9 46.8 261.8 44.4 257.7 42.1Z" fill="none" stroke="#000" stroke-opacity="0.90" stroke-width="0.70"/>
<path d="M253.6 27.2 249.0 29.4 244.5 31.9 239.9 34.6 235.4 37.6 230.8 40.8 226.2 44.2 221.7 47.9 217.2 51.7 212.8 55.8 208.4 60.1 204.1 64.5 199.9 69.2 195.7 74.0 191.7 79.0 187.7 84.1 183.9 89.4 180.2 94.8 176.6 100.4 173.1 106.0 169.8 111.8 166.7 117.6 163.7 123.5 160.9 129.4 158.2 135.4 155.7 141.5 153.5 147.5 151.4 153.6 149.5 159.6 147.7 165.6 146.2 171.6 144.9 177.5 143.8 183.4 142.9 189.2 142.2 194.9 141.7 200.5 141.4 206.0 141.3 211.4 141.4 216.7 141.7 221.8 146.0 224.5 150.4 227.2 155.1 229.7 160.0 232.1 165.1 234.4 170.3 236.6 175.8 238.6 181.4 240.5 187.2 242.3 193.1 243.9 199.2 245.3 205.3 246.7 211.6 247.8 218.0 248.8 224.4 249.6 230.9 250.3 237.5 250.8 244.1 251.1 250.7 251.3 257.4 251.3 264.0 251.1 270.6 250.7 277.2 250.2 283.7 249.5 290.2 248.6 296.5 247.6 302.8 246.4 309.0 245.1 315.0 243.6 321.0 241.9 326.7 240.2 332.3 238.2 337.8 236.2 343.1 234.0 348.2 231.6 353.0 229.2 357.7 226.7 362.2 224.0 366.4 221.2 366.7 216.1 366.8 210.9 366.6 205.5 366.3 200.0 365.8 194.3 365.0 188.6 364.1 182.8 362.9 177.0 361.6 171.1 360.0 165.1 358.3 159.1 356.3 153.0 354.2 147.0 351.9 141.0 349.4 134.9 346.7 129.0 343.8 123.0 340.8 117.1 337.6 111.3 334.3 105.6 330.8 100.0 327.2 94.5 323.5 89.1 319.6 83.8 315.6 78.7 311.5 73.7 307.4 68.9 303.1 64.3 298.8 59.8 294.4 55.6 289.9 51.5 285.4 47.7 280.9 44.1 276.4 40.7 271.8 37.5 267.2 34.6 262.7 31.9 258.1 29.4Z" fill="none" stroke="#000" stroke-opacity="0.90" stroke-width="0.70"/>
</g>
<clipPath id="ia_r"><rect x="316.00" y="5.00" width="124.00" height="120.50"/></clipPath>
<clipPath id="ia_o"><circle cx="2.31" cy="432.92" r="555.04"/></clipPath>
<clipPath id="ia_i"><path clip-rule="evenodd" d="M-100 -100H900V900H-100Z M-252.73 340.30 a353.93 353.93 0 1 0 707.87 0 a353.93 353.93 0 1 0 -707.87 0Z"/></clipPath>
<g clip-path="url(#ia_r)"><g clip-path="url(#ia_o)"><g clip-path="url(#ia_i)">
<circle cx="2.31" cy="432.92" r="555.04" fill="rgb(0,40,215)"/>
<circle cx="27.03" cy="409.77" r="504.76" fill="rgb(0,79,225)"/>
<circle cx="28.33" cy="408.55" r="502.13" fill="rgb(0,92,228)"/>
<circle cx="29.63" cy="407.34" r="499.49" fill="rgb(0,116,232)"/>
<circle cx="30.93" cy="406.12" r="496.85" fill="rgb(0,148,238)"/>
<circle cx="32.23" cy="404.90" r="494.21" fill="rgb(0,189,230)"/>
<circle cx="33.52" cy="403.69" r="491.57" fill="rgb(0,225,200)"/>
<circle cx="34.82" cy="402.47" r="488.93" fill="rgb(0,225,124)"/>
<circle cx="36.12" cy="401.26" r="486.29" fill="rgb(12,225,50)"/>
<circle cx="37.42" cy="400.04" r="483.65" fill="rgb(85,228,12)"/>
<circle cx="38.72" cy="398.83" r="481.01" fill="rgb(180,235,0)"/>
<circle cx="40.01" cy="397.61" r="478.37" fill="rgb(230,211,0)"/>
<circle cx="41.31" cy="396.40" r="475.73" fill="rgb(238,160,0)"/>
<circle cx="42.61" cy="395.18" r="473.09" fill="rgb(233,116,0)"/>
<circle cx="43.91" cy="393.96" r="470.45" fill="rgb(229,86,0)"/>
<circle cx="45.21" cy="392.75" r="467.81" fill="rgb(225,65,0)"/>
<circle cx="46.50" cy="391.53" r="465.17" fill="rgb(223,50,0)"/>
<circle cx="47.80" cy="390.32" r="462.53" fill="rgb(221,38,0)"/>
</g></g>
<circle cx="2.31" cy="432.92" r="553.64" fill="none" stroke="#000" stroke-width="2.8"/>
<circle cx="101.20" cy="340.30" r="354.23" fill="none" stroke="#000" stroke-width="2.2"/>
</g>
<rect x="323.40" y="98.00" width="17.40" height="17.00" fill="none" stroke="#fff" stroke-width="1.3"/>
<path d="M323.40 98.00L316.00 59.00 M340.80 115.00L382.50 125.50" stroke="#fff" stroke-width="1.3" fill="none"/>
<path d="M171.00 238.00L210.09 242.34" stroke="#fff" stroke-width="1.50"/><path d="M216.00 243.00L207.13 245.84L210.09 242.34L207.97 238.28Z" fill="#fff"/>
<rect x="17.70" y="2.20" width="83.30" height="176.40" fill="#fff" stroke="#2a2a2a" stroke-width="0.9"/>
<text x="59.20" y="21.30" font-size="9.75" text-anchor="middle" class="sans">hydrostatic</text>
<text x="59.20" y="32.10" font-size="9.75" text-anchor="middle" class="sans" style="white-space:pre">pressure  [MPa]</text>
<rect x="28.00" y="46.40" width="15.30" height="10.20" fill="rgb(255,0,0)" stroke="#222" stroke-width="0.4"/>
<rect x="28.00" y="56.60" width="15.30" height="10.20" fill="rgb(255,100,0)" stroke="#222" stroke-width="0.4"/>
<rect x="28.00" y="66.80" width="15.30" height="10.20" fill="rgb(255,180,0)" stroke="#222" stroke-width="0.4"/>
<rect x="28.00" y="77.00" width="15.30" height="10.20" fill="rgb(240,255,0)" stroke="#222" stroke-width="0.4"/>
<rect x="28.00" y="87.20" width="15.30" height="10.20" fill="rgb(150,255,0)" stroke="#222" stroke-width="0.4"/>
<rect x="28.00" y="97.40" width="15.30" height="10.20" fill="rgb(50,240,0)" stroke="#222" stroke-width="0.4"/>
<rect x="28.00" y="107.60" width="15.30" height="10.20" fill="rgb(0,245,40)" stroke="#222" stroke-width="0.4"/>
<rect x="28.00" y="117.80" width="15.30" height="10.20" fill="rgb(0,245,140)" stroke="#222" stroke-width="0.4"/>
<rect x="28.00" y="128.00" width="15.30" height="10.20" fill="rgb(0,255,235)" stroke="#222" stroke-width="0.4"/>
<rect x="28.00" y="138.20" width="15.30" height="10.20" fill="rgb(0,180,255)" stroke="#222" stroke-width="0.4"/>
<rect x="28.00" y="148.40" width="15.30" height="10.20" fill="rgb(0,90,230)" stroke="#222" stroke-width="0.4"/>
<rect x="28.00" y="158.60" width="15.30" height="10.20" fill="rgb(0,0,255)" stroke="#222" stroke-width="0.4"/>
<path d="M43.30 46.40h5.20" stroke="#222" stroke-width="0.6"/>
<path d="M43.30 56.60h5.20" stroke="#222" stroke-width="0.6"/>
<path d="M43.30 66.80h5.20" stroke="#222" stroke-width="0.6"/>
<path d="M43.30 77.00h5.20" stroke="#222" stroke-width="0.6"/>
<path d="M43.30 87.20h5.20" stroke="#222" stroke-width="0.6"/>
<path d="M43.30 97.40h5.20" stroke="#222" stroke-width="0.6"/>
<path d="M43.30 107.60h5.20" stroke="#222" stroke-width="0.6"/>
<path d="M43.30 117.80h5.20" stroke="#222" stroke-width="0.6"/>
<path d="M43.30 128.00h5.20" stroke="#222" stroke-width="0.6"/>
<path d="M43.30 138.20h5.20" stroke="#222" stroke-width="0.6"/>
<path d="M43.30 148.40h5.20" stroke="#222" stroke-width="0.6"/>
<path d="M43.30 158.60h5.20" stroke="#222" stroke-width="0.6"/>
<path d="M43.30 168.80h5.20" stroke="#222" stroke-width="0.6"/>
<text x="67.90" y="49.00" font-size="9.75" text-anchor="middle" class="sans">700</text>
<text x="67.90" y="64.30" font-size="9.75" text-anchor="middle" class="sans">525</text>
<text x="67.90" y="79.60" font-size="9.75" text-anchor="middle" class="sans">350</text>
<text x="67.90" y="94.90" font-size="9.75" text-anchor="middle" class="sans">175</text>
<text x="67.90" y="110.20" font-size="9.75" text-anchor="middle" class="sans">0</text>
<text x="66.30" y="125.50" font-size="9.75" text-anchor="middle" class="sans">-175</text>
<text x="66.30" y="140.80" font-size="9.75" text-anchor="middle" class="sans">-350</text>
<text x="66.30" y="156.10" font-size="9.75" text-anchor="middle" class="sans">-525</text>
<text x="66.30" y="171.40" font-size="9.75" text-anchor="middle" class="sans">-700</text>
<rect x="42.00" y="183.50" width="126.50" height="107.20" fill="#fff" stroke="#b0b0b0" stroke-width="1"/>
<path d="M49.00 237.50H162.40" stroke="#d0d0d0" stroke-width="0.8"/>
<path d="M49.0 194.3 49.9 194.3 50.9 194.3 51.8 194.3 52.8 194.3 53.7 194.3 54.7 194.3 55.6 194.3 56.6 194.3 57.5 194.3 58.4 194.3 59.4 194.3 60.3 194.3 61.3 194.3 62.2 194.3 63.2 194.3 64.1 194.3 65.1 194.3 66.0 194.3 67.0 194.3 67.9 194.3 68.8 194.3 69.8 194.3 70.7 194.3 71.7 194.3 72.6 194.3 73.6 194.3 74.5 194.4 75.5 194.4 76.4 194.4 77.4 194.4 78.3 194.4 79.2 194.4 80.2 194.5 81.1 194.5 82.1 194.5 83.0 194.6 84.0 194.7 84.9 194.8 85.9 194.9 86.8 195.0 87.7 195.2 88.7 195.4 89.6 195.7 90.6 196.1 91.5 196.6 92.5 197.1 93.4 197.9 94.4 198.8 95.3 199.9 96.2 201.3 97.2 202.9 98.1 204.9 99.1 207.3 100.0 210.2 101.0 213.4 101.9 217.1 102.9 221.2 103.8 225.7 104.8 230.4 105.7 235.3 106.6 240.1 107.6 244.8 108.5 249.3 109.5 253.4 110.4 257.1 111.4 260.4 112.3 263.2 113.3 265.6 114.2 267.6 115.1 269.3 116.1 270.7 117.0 271.8 118.0 272.7 118.9 273.4 119.9 274.0 120.8 274.5 121.8 274.8 122.7 275.1 123.7 275.4 124.6 275.5 125.5 275.7 126.5 275.8 127.4 275.9 128.4 276.0 129.3 276.0 130.3 276.1 131.2 276.1 132.2 276.1 133.1 276.2 134.0 276.2 135.0 276.2 135.9 276.2 136.9 276.2 137.8 276.2 138.8 276.2 139.7 276.2 140.7 276.2 141.6 276.2 142.6 276.2 143.5 276.2 144.4 276.2 145.4 276.2 146.3 276.2 147.3 276.2 148.2 276.2 149.2 276.2 150.1 276.2 151.1 276.2 152.0 276.2 152.9 276.2 153.9 276.2 154.8 276.2 155.8 276.2 156.7 276.2 157.7 276.2 158.6 276.2 159.6 276.2 160.5 276.2 161.5 276.2 162.4 276.2" fill="none" stroke="#111" stroke-width="1.05" />
<text x="40.60" y="190.10" font-size="8.90" text-anchor="end" class="dserif">800</text>
<text x="40.60" y="215.50" font-size="8.90" text-anchor="end" class="dserif">400</text>
<text x="40.60" y="240.90" font-size="8.90" text-anchor="end" class="dserif">0</text>
<text x="40.60" y="266.30" font-size="8.90" text-anchor="end" class="dserif">−400</text>
<text x="40.60" y="291.70" font-size="8.90" text-anchor="end" class="dserif">−800</text>
<text x="49.00" y="300.00" font-size="8.90" text-anchor="middle" class="dserif">3.0</text>
<text x="86.80" y="300.00" font-size="8.90" text-anchor="middle" class="dserif">3.1</text>
<text x="124.60" y="300.00" font-size="8.90" text-anchor="middle" class="dserif">3.2</text>
<text x="162.40" y="300.00" font-size="8.90" text-anchor="middle" class="dserif">3.3</text>
<text x="105.70" y="309.90" font-size="10.4" text-anchor="middle" class="dserif"><tspan font-style="italic" font-family="'DejaVu Sans','Liberation Sans',sans-serif">r</tspan> [m]</text>
<text transform="translate(10.20 236.00) rotate(-90)" font-size="10.8" text-anchor="middle" class="dserif">hydrostatic pressure [MPa]</text>
<text x="220.9" y="336.7" font-size="17.5" text-anchor="middle" class="lserif">(a)</text>
<linearGradient id="b_og" gradientUnits="userSpaceOnUse" x1="178.4" y1="447.0" x2="370.3" y2="623.2">
<stop offset="0" stop-color="#00ffe4"/><stop offset="1" stop-color="#009686"/></linearGradient>
<clipPath id="b_sil"><circle cx="261.10" cy="523.00" r="150.00"/></clipPath>
<circle cx="261.10" cy="523.00" r="150.00" fill="url(#b_og)"/>
<g clip-path="url(#b_sil)">
<path d="M202.2 384.6 204.4 383.7 206.6 382.9 208.9 382.2 211.3 381.6 213.7 381.0 216.1 380.6 218.6 380.3 221.2 380.1 223.8 380.0 226.4 380.0 229.1 380.1 231.8 380.2 234.6 380.6 237.4 381.0 240.2 381.5 243.1 382.1 246.0 382.8 248.9 383.7 251.8 384.6 254.8 385.7 257.8 386.9 260.8 388.1 263.8 389.5 266.9 391.0 269.9 392.6 273.0 394.3 276.1 396.1 279.1 398.1 282.2 400.1 285.3 402.2 288.3 404.4 291.4 406.8 294.4 409.2 297.5 411.7 300.5 414.3 303.5 417.0 306.4 419.9 309.4 422.7 312.3 425.7 315.2 428.8 318.0 431.9 320.8 435.2 323.6 438.5 326.3 441.8 329.0 445.3 331.6 448.8 334.2 452.3 336.7 456.0 339.2 459.7 341.6 463.4 344.0 467.2 346.2 471.0 348.5 474.9 350.6 478.8 352.7 482.8 354.7 486.7 356.6 490.7 358.5 494.8 360.3 498.8 361.9 502.9 363.6 506.9 365.1 511.0 366.5 515.1 367.9 519.2 369.2 523.2 370.4 527.3 371.5 531.3 372.5 535.4 373.4 539.4 374.3 543.3 375.0 547.3 375.7 551.2 376.2 555.1 376.7 559.0 377.1 562.8 377.4 566.5 377.6 570.2 377.7 573.9 377.7 577.5 377.7 581.0 377.5 584.5 377.3 588.0 377.0 591.3 376.6 594.6 376.1 597.8 375.5 601.0 374.8 604.0 374.1 607.0 373.3 609.9 372.4 612.8 371.4 615.5 370.4 618.2 369.3 620.8 368.1 623.3 366.8 625.7 365.5 628.0 364.1 630.2 362.6 632.3 361.1 634.4 359.5 636.3 357.9 638.2 356.2 639.9 354.4 641.6 352.6 643.2 350.7 644.7 348.8 646.0" fill="none" stroke="#000" stroke-opacity="0.90" stroke-width="0.70"/>
<path d="M411.3 538.4 411.1 540.7 410.7 543.0 410.2 545.2 409.6 547.5 408.9 549.7 408.1 552.0 407.2 554.2 406.1 556.5 405.0 558.7 403.7 560.9 402.3 563.2 400.9 565.4 399.3 567.5 397.6 569.7 395.7 571.8 393.8 573.9 391.8 576.0 389.6 578.1 387.4 580.1 385.0 582.1 382.5 584.1 380.0 586.1 377.3 588.0 374.5 589.8 371.6 591.6 368.7 593.4 365.6 595.1 362.4 596.8 359.1 598.5 355.8 600.1 352.4 601.6 348.8 603.1 345.2 604.5 341.6 605.9 337.8 607.2 334.0 608.4 330.1 609.6 326.1 610.7 322.1 611.8 318.0 612.8 313.9 613.7 309.7 614.6 305.4 615.3 301.2 616.1 296.8 616.7 292.5 617.3 288.1 617.8 283.7 618.2 279.3 618.5 274.8 618.8 270.3 619.0 265.9 619.1 261.4 619.2 256.9 619.2 252.4 619.1 248.0 618.9 243.5 618.6 239.1 618.3 234.7 617.9 230.3 617.4 225.9 616.9 221.6 616.3 217.3 615.6 213.1 614.8 208.9 614.0 204.8 613.1 200.7 612.1 196.7 611.1 192.7 610.0 188.8 608.8 185.0 607.6 181.2 606.3 177.5 604.9 173.9 603.5 170.4 602.1 167.0 600.6 163.6 599.0 160.4 597.4 157.2 595.7 154.1 594.0 151.2 592.2 148.3 590.4 145.5 588.6 142.8 586.7 140.2 584.8 137.8 582.8 135.4 580.8 133.1 578.8 131.0 576.7 129.0 574.7 127.0 572.6 125.2 570.4 123.5 568.3 121.9 566.1 120.4 563.9 119.0 561.7 117.8 559.5 116.6 557.3 115.6 555.0 114.7 552.8 113.9 550.6 113.1 548.3 112.5 546.0 112.1 543.8 111.7 541.5 111.4 539.3" fill="none" stroke="#000" stroke-opacity="0.90" stroke-width="0.70"/>
<path d="M174.5 646.5 172.6 645.1 170.7 643.7 168.9 642.1 167.1 640.4 165.4 638.7 163.7 636.8 162.1 634.9 160.5 632.9 159.1 630.7 157.6 628.5 156.3 626.2 155.0 623.8 153.8 621.3 152.7 618.8 151.6 616.1 150.6 613.4 149.7 610.5 148.8 607.6 148.1 604.6 147.4 601.6 146.8 598.4 146.3 595.2 145.8 591.9 145.5 588.6 145.2 585.2 145.1 581.7 145.0 578.1 145.0 574.5 145.1 570.9 145.2 567.2 145.5 563.4 145.9 559.6 146.3 555.7 146.8 551.9 147.5 547.9 148.2 544.0 149.0 540.0 149.9 536.0 150.9 531.9 152.0 527.9 153.1 523.8 154.4 519.8 155.7 515.7 157.1 511.6 158.6 507.5 160.2 503.4 161.9 499.4 163.7 495.3 165.5 491.3 167.4 487.3 169.4 483.3 171.4 479.3 173.5 475.4 175.7 471.5 178.0 467.7 180.3 463.9 182.7 460.1 185.2 456.4 187.7 452.8 190.2 449.2 192.8 445.7 195.5 442.2 198.2 438.8 201.0 435.5 203.8 432.3 206.6 429.1 209.4 426.0 212.3 423.0 215.3 420.1 218.2 417.3 221.2 414.6 224.2 411.9 227.2 409.4 230.3 406.9 233.3 404.6 236.4 402.4 239.4 400.2 242.5 398.2 245.6 396.2 248.6 394.4 251.7 392.7 254.7 391.0 257.8 389.5 260.8 388.1 263.8 386.8 266.8 385.7 269.8 384.6 272.8 383.6 275.7 382.7 278.6 382.0 281.5 381.4 284.3 380.8 287.1 380.4 289.9 380.1 292.6 379.9 295.3 379.8 297.9 379.7 300.5 379.8 303.1 380.0 305.6 380.4 308.1 380.8 310.5 381.3 312.9 381.9 315.2 382.6 317.4 383.3 319.7 384.2" fill="none" stroke="#000" stroke-opacity="0.90" stroke-width="0.70"/>
<path d="M260.8 388.1 256.2 390.3 251.5 392.8 246.7 395.5 242.0 398.5 237.3 401.7 232.6 405.1 227.9 408.8 223.3 412.7 218.7 416.9 214.1 421.2 209.7 425.8 205.3 430.6 201.0 435.5 196.7 440.6 192.6 445.9 188.6 451.4 184.8 457.0 181.1 462.7 177.5 468.5 174.0 474.5 170.8 480.5 167.7 486.6 164.8 492.8 162.0 499.1 159.5 505.3 157.1 511.6 155.0 517.9 153.0 524.1 151.3 530.4 149.8 536.6 148.4 542.7 147.3 548.8 146.4 554.8 145.7 560.8 145.3 566.6 145.0 572.3 145.0 577.9 145.1 583.3 145.5 588.6 149.8 591.4 154.4 594.1 159.1 596.7 164.1 599.2 169.4 601.6 174.8 603.9 180.4 606.0 186.2 608.0 192.1 609.8 198.2 611.5 204.5 613.0 210.8 614.4 217.3 615.6 223.9 616.6 230.6 617.5 237.4 618.2 244.2 618.7 251.1 619.0 257.9 619.2 264.8 619.2 271.7 619.0 278.6 618.6 285.4 618.0 292.1 617.3 298.8 616.4 305.4 615.3 311.9 614.1 318.3 612.7 324.6 611.1 330.7 609.4 336.6 607.6 342.4 605.6 348.0 603.4 353.4 601.1 358.6 598.7 363.6 596.2 368.4 593.5 373.0 590.8 377.3 588.0 377.6 582.7 377.7 577.2 377.6 571.6 377.3 565.9 376.8 560.1 376.1 554.2 375.2 548.2 374.0 542.1 372.6 536.0 371.1 529.8 369.3 523.5 367.3 517.3 365.1 511.0 362.7 504.7 360.1 498.5 357.3 492.3 354.4 486.1 351.3 480.0 348.0 474.0 344.5 468.1 340.9 462.2 337.1 456.5 333.2 451.0 329.2 445.5 325.1 440.3 320.8 435.2 316.5 430.2 312.1 425.5 307.6 421.0 303.0 416.6 298.4 412.5 293.7 408.6 289.0 405.0 284.3 401.5 279.6 398.4 274.9 395.4 270.2 392.7 265.5 390.3Z" fill="rgb(0,232,204)"/>
<path d="M261.3 523.3 260.8 388.1 256.2 390.3 251.5 392.8 246.7 395.5 242.0 398.5 237.3 401.7 232.6 405.1 227.9 408.8 223.3 412.7 218.7 416.9 214.1 421.2 209.7 425.8 205.3 430.6 201.0 435.5 196.7 440.6 192.6 445.9 188.6 451.4 184.8 457.0 181.1 462.7 177.5 468.5 174.0 474.5 170.8 480.5 167.7 486.6 164.8 492.8 162.0 499.1 159.5 505.3 157.1 511.6 155.0 517.9 153.0 524.1 151.3 530.4 149.8 536.6 148.4 542.7 147.3 548.8 146.4 554.8 145.7 560.8 145.3 566.6 145.0 572.3 145.0 577.9 145.1 583.3 145.5 588.6Z" fill="rgb(0,146,128)"/>
<path d="M261.3 523.3 260.8 389.5 256.2 391.7 251.6 394.1 246.9 396.8 242.2 399.7 237.6 402.9 232.9 406.3 228.3 410.0 223.7 413.9 219.1 418.0 214.6 422.3 210.2 426.8 205.9 431.5 201.6 436.4 197.4 441.5 193.4 446.7 189.4 452.1 185.6 457.7 181.9 463.3 178.4 469.1 175.0 475.0 171.7 481.0 168.7 487.0 165.8 493.1 163.1 499.3 160.6 505.5 158.2 511.7 156.1 517.9 154.2 524.1 152.4 530.3 150.9 536.5 149.6 542.5 148.5 548.6 147.6 554.5 146.9 560.4 146.5 566.1 146.2 571.8 146.1 577.3 146.3 582.7 146.7 587.9Z" fill="rgb(0,146,114)"/>
<path d="M261.3 523.3 260.8 390.2 256.2 392.3 251.6 394.8 247.0 397.5 242.3 400.4 237.7 403.5 233.1 406.9 228.5 410.6 223.9 414.4 219.4 418.5 214.9 422.8 210.5 427.3 206.1 432.0 201.9 436.9 197.8 441.9 193.7 447.1 189.8 452.5 186.0 458.0 182.3 463.7 178.8 469.4 175.4 475.3 172.2 481.2 169.2 487.2 166.3 493.3 163.6 499.4 161.1 505.6 158.8 511.8 156.6 518.0 154.7 524.1 153.0 530.3 151.5 536.4 150.2 542.4 149.1 548.4 148.2 554.4 147.5 560.2 147.0 565.9 146.8 571.5 146.7 577.0 146.9 582.4 147.2 587.6Z" fill="rgb(0,146,102)"/>
<path d="M261.3 523.3 260.8 390.8 256.3 393.0 251.7 395.4 247.0 398.1 242.4 401.0 237.8 404.2 233.2 407.6 228.6 411.2 224.1 415.0 219.6 419.1 215.1 423.3 210.7 427.8 206.4 432.5 202.2 437.3 198.1 442.4 194.1 447.5 190.2 452.9 186.4 458.4 182.7 464.0 179.2 469.7 175.9 475.5 172.7 481.4 169.6 487.4 166.8 493.5 164.1 499.6 161.6 505.7 159.3 511.8 157.2 518.0 155.3 524.1 153.6 530.2 152.1 536.3 150.8 542.3 149.7 548.3 148.8 554.2 148.1 560.0 147.6 565.7 147.4 571.3 147.3 576.7 147.5 582.1 147.8 587.3Z" fill="rgb(0,146,89)"/>
<path d="M261.3 523.3 260.8 391.5 256.3 393.7 251.7 396.1 247.1 398.7 242.5 401.6 237.9 404.8 233.3 408.2 228.8 411.8 224.3 415.6 219.8 419.6 215.4 423.9 211.0 428.3 206.7 433.0 202.5 437.8 198.4 442.8 194.4 447.9 190.5 453.3 186.8 458.7 183.2 464.3 179.7 470.0 176.3 475.8 173.2 481.7 170.1 487.6 167.3 493.6 164.6 499.7 162.1 505.8 159.8 511.9 157.7 518.0 155.8 524.1 154.1 530.2 152.6 536.2 151.3 542.2 150.3 548.2 149.4 554.0 148.7 559.8 148.2 565.5 148.0 571.0 147.9 576.5 148.1 581.8 148.4 586.9Z" fill="rgb(0,146,74)"/>
<path d="M261.3 523.3 260.8 392.2 256.3 394.4 251.8 396.8 247.2 399.4 242.6 402.3 238.1 405.4 233.5 408.8 229.0 412.3 224.5 416.1 220.0 420.2 215.6 424.4 211.3 428.8 207.0 433.4 202.8 438.2 198.8 443.2 194.8 448.3 190.9 453.6 187.2 459.1 183.6 464.6 180.1 470.3 176.8 476.0 173.6 481.9 170.6 487.8 167.8 493.8 165.1 499.8 162.7 505.9 160.4 512.0 158.3 518.0 156.4 524.1 154.7 530.2 153.2 536.2 151.9 542.1 150.8 548.0 150.0 553.9 149.3 559.6 148.8 565.3 148.6 570.8 148.5 576.2 148.6 581.5 149.0 586.6Z" fill="rgb(0,146,59)"/>
<path d="M261.3 523.3 260.8 392.9 256.3 395.0 251.8 397.4 247.3 400.0 242.7 402.9 238.2 406.0 233.6 409.4 229.1 412.9 224.7 416.7 220.2 420.7 215.9 424.9 211.5 429.3 207.3 433.9 203.2 438.7 199.1 443.6 195.1 448.8 191.3 454.0 187.6 459.4 184.0 464.9 180.5 470.5 177.2 476.3 174.1 482.1 171.1 488.0 168.3 493.9 165.7 499.9 163.2 506.0 160.9 512.0 158.8 518.1 157.0 524.1 155.3 530.1 153.8 536.1 152.5 542.0 151.4 547.9 150.5 553.7 149.9 559.4 149.4 565.0 149.1 570.5 149.1 575.9 149.2 581.2 149.6 586.3Z" fill="rgb(4,146,41)"/>
<path d="M261.3 523.3 260.8 393.5 256.4 395.7 251.9 398.1 247.3 400.7 242.8 403.5 238.3 406.6 233.8 410.0 229.3 413.5 224.9 417.3 220.4 421.3 216.1 425.4 211.8 429.8 207.6 434.4 203.5 439.2 199.4 444.1 195.5 449.2 191.7 454.4 188.0 459.7 184.4 465.2 181.0 470.8 177.7 476.5 174.6 482.3 171.6 488.2 168.8 494.1 166.2 500.1 163.7 506.1 161.5 512.1 159.4 518.1 157.5 524.1 155.8 530.1 154.4 536.0 153.1 541.9 152.0 547.8 151.1 553.6 150.5 559.2 150.0 564.8 149.7 570.3 149.7 575.6 149.8 580.9 150.2 586.0Z" fill="rgb(11,146,23)"/>
<path d="M261.3 523.3 260.8 394.2 256.4 396.3 251.9 398.7 247.4 401.3 242.9 404.2 238.4 407.3 233.9 410.6 229.5 414.1 225.1 417.8 220.7 421.8 216.3 426.0 212.1 430.3 207.9 434.9 203.8 439.6 199.8 444.5 195.9 449.6 192.1 454.8 188.4 460.1 184.8 465.5 181.4 471.1 178.1 476.8 175.0 482.5 172.1 488.4 169.3 494.3 166.7 500.2 164.3 506.2 162.0 512.1 159.9 518.1 158.1 524.1 156.4 530.1 154.9 536.0 153.7 541.8 152.6 547.7 151.7 553.4 151.1 559.0 150.6 564.6 150.3 570.0 150.3 575.4 150.4 580.6 150.7 585.6Z" fill="rgb(22,146,10)"/>
<path d="M261.3 523.3 260.8 394.9 256.4 397.0 252.0 399.4 247.5 402.0 243.0 404.8 238.5 407.9 234.1 411.2 229.6 414.7 225.2 418.4 220.9 422.4 216.6 426.5 212.3 430.8 208.2 435.4 204.1 440.1 200.1 444.9 196.2 450.0 192.4 455.1 188.8 460.4 185.2 465.9 181.8 471.4 178.6 477.0 175.5 482.8 172.6 488.6 169.8 494.4 167.2 500.3 164.8 506.2 162.5 512.2 160.5 518.1 158.6 524.1 157.0 530.0 155.5 535.9 154.2 541.7 153.2 547.5 152.3 553.2 151.6 558.9 151.2 564.4 150.9 569.8 150.8 575.1 151.0 580.3 151.3 585.3Z" fill="rgb(39,146,3)"/>
<path d="M261.3 523.3 260.8 395.6 256.4 397.7 252.0 400.0 247.6 402.6 243.1 405.4 238.7 408.5 234.2 411.8 229.8 415.3 225.4 419.0 221.1 422.9 216.8 427.0 212.6 431.3 208.5 435.8 204.4 440.5 200.4 445.4 196.6 450.4 192.8 455.5 189.2 460.8 185.7 466.2 182.3 471.7 179.1 477.3 176.0 483.0 173.1 488.7 170.3 494.6 167.7 500.4 165.3 506.3 163.1 512.3 161.0 518.2 159.2 524.1 157.5 530.0 156.1 535.8 154.8 541.6 153.8 547.4 152.9 553.1 152.2 558.7 151.8 564.2 151.5 569.5 151.4 574.8 151.6 580.0 151.9 585.0Z" fill="rgb(57,146,0)"/>
<path d="M261.3 523.3 260.8 396.2 256.5 398.3 252.1 400.7 247.6 403.3 243.2 406.1 238.8 409.1 234.4 412.4 230.0 415.8 225.6 419.5 221.3 423.4 217.1 427.5 212.9 431.8 208.7 436.3 204.7 441.0 200.8 445.8 196.9 450.8 193.2 455.9 189.6 461.1 186.1 466.5 182.7 472.0 179.5 477.5 176.4 483.2 173.5 488.9 170.8 494.7 168.2 500.6 165.8 506.4 163.6 512.3 161.6 518.2 159.8 524.1 158.1 529.9 156.6 535.8 155.4 541.5 154.3 547.3 153.5 552.9 152.8 558.5 152.3 563.9 152.1 569.3 152.0 574.5 152.1 579.7 152.5 584.6Z" fill="rgb(77,146,0)"/>
<path d="M261.3 523.3 260.8 396.9 256.5 399.0 252.1 401.3 247.7 403.9 243.3 406.7 238.9 409.7 234.5 413.0 230.2 416.4 225.8 420.1 221.5 424.0 217.3 428.1 213.1 432.3 209.0 436.8 205.0 441.4 201.1 446.2 197.3 451.1 193.6 456.2 190.0 461.5 186.5 466.8 183.1 472.2 180.0 477.8 176.9 483.4 174.0 489.1 171.3 494.9 168.7 500.7 166.4 506.5 164.2 512.4 162.1 518.2 160.3 524.1 158.7 529.9 157.2 535.7 156.0 541.4 154.9 547.1 154.1 552.7 153.4 558.3 152.9 563.7 152.7 569.1 152.6 574.3 152.7 579.4 153.0 584.3Z" fill="rgb(98,146,0)"/>
<path d="M261.3 523.3 260.9 397.6 256.5 399.7 252.2 402.0 247.8 404.5 243.4 407.3 239.0 410.3 234.7 413.6 230.3 417.0 226.0 420.7 221.8 424.5 217.5 428.6 213.4 432.8 209.3 437.3 205.3 441.9 201.4 446.6 197.6 451.5 193.9 456.6 190.3 461.8 186.9 467.1 183.6 472.5 180.4 478.0 177.4 483.6 174.5 489.3 171.8 495.0 169.3 500.8 166.9 506.6 164.7 512.4 162.7 518.3 160.9 524.1 159.2 529.9 157.8 535.6 156.5 541.3 155.5 547.0 154.6 552.6 154.0 558.1 153.5 563.5 153.3 568.8 153.2 574.0 153.3 579.1 153.6 584.0Z" fill="rgb(119,146,0)"/>
<path d="M261.3 523.3 260.9 398.3 256.5 400.3 252.2 402.6 247.9 405.2 243.5 407.9 239.1 410.9 234.8 414.2 230.5 417.6 226.2 421.2 222.0 425.1 217.8 429.1 213.7 433.3 209.6 437.7 205.6 442.3 201.8 447.1 198.0 451.9 194.3 457.0 190.7 462.1 187.3 467.4 184.0 472.8 180.9 478.3 177.8 483.9 175.0 489.5 172.3 495.2 169.8 500.9 167.4 506.7 165.2 512.5 163.2 518.3 161.4 524.1 159.8 529.8 158.4 535.6 157.1 541.2 156.1 546.9 155.2 552.4 154.6 557.9 154.1 563.3 153.8 568.6 153.8 573.7 153.9 578.8 154.2 583.7Z" fill="rgb(138,144,0)"/>
<path d="M261.3 523.3 260.9 398.9 256.6 401.0 252.3 403.3 247.9 405.8 243.6 408.6 239.3 411.6 235.0 414.8 230.7 418.2 226.4 421.8 222.2 425.6 218.0 429.6 213.9 433.8 209.9 438.2 205.9 442.8 202.1 447.5 198.3 452.3 194.7 457.3 191.1 462.5 187.7 467.7 184.4 473.1 181.3 478.5 178.3 484.1 175.5 489.7 172.8 495.4 170.3 501.1 167.9 506.8 165.8 512.6 163.8 518.3 162.0 524.1 160.4 529.8 158.9 535.5 157.7 541.1 156.7 546.7 155.8 552.3 155.1 557.7 154.7 563.1 154.4 568.3 154.4 573.4 154.5 578.5 154.8 583.3Z" fill="rgb(149,133,0)"/>
<path d="M261.3 523.3 260.9 399.6 256.6 401.7 252.3 403.9 248.0 406.5 243.7 409.2 239.4 412.2 235.1 415.3 230.8 418.7 226.6 422.3 222.4 426.1 218.3 430.1 214.2 434.3 210.2 438.7 206.3 443.2 202.4 447.9 198.7 452.7 195.0 457.7 191.5 462.8 188.1 468.0 184.9 473.4 181.7 478.8 178.8 484.3 175.9 489.9 173.3 495.5 170.8 501.2 168.4 506.9 166.3 512.6 164.3 518.3 162.5 524.1 160.9 529.8 159.5 535.4 158.3 541.1 157.2 546.6 156.4 552.1 155.7 557.5 155.3 562.8 155.0 568.1 154.9 573.2 155.0 578.2 155.4 583.0Z" fill="rgb(153,115,0)"/>
<path d="M261.3 523.3 260.9 400.3 256.6 402.3 252.4 404.6 248.1 407.1 243.8 409.8 239.5 412.8 235.2 415.9 231.0 419.3 226.8 422.9 222.6 426.7 218.5 430.7 214.5 434.8 210.5 439.2 206.6 443.7 202.7 448.3 199.0 453.1 195.4 458.1 191.9 463.2 188.5 468.4 185.3 473.7 182.2 479.0 179.2 484.5 176.4 490.1 173.8 495.7 171.3 501.3 169.0 507.0 166.8 512.7 164.9 518.4 163.1 524.1 161.5 529.7 160.1 535.4 158.8 541.0 157.8 546.5 157.0 552.0 156.3 557.3 155.9 562.6 155.6 567.8 155.5 572.9 155.6 577.9 155.9 582.7Z" fill="rgb(153,97,0)"/>
<path d="M261.3 523.3 260.9 400.9 256.6 403.0 252.4 405.2 248.1 407.7 243.9 410.4 239.6 413.4 235.4 416.5 231.2 419.9 227.0 423.5 222.8 427.2 218.7 431.2 214.7 435.3 210.8 439.6 206.9 444.1 203.1 448.7 199.4 453.5 195.8 458.5 192.3 463.5 189.0 468.7 185.7 473.9 182.6 479.3 179.7 484.7 176.9 490.3 174.3 495.8 171.8 501.4 169.5 507.1 167.4 512.7 165.4 518.4 163.6 524.1 162.0 529.7 160.6 535.3 159.4 540.9 158.4 546.4 157.5 551.8 156.9 557.1 156.4 562.4 156.2 567.6 156.1 572.6 156.2 577.6 156.5 582.4Z" fill="rgb(153,85,0)"/>
<path d="M261.3 523.3 260.8 388.1 265.5 390.3 270.2 392.7 274.9 395.4 279.6 398.4 284.3 401.5 289.0 405.0 293.7 408.6 298.4 412.5 303.0 416.6 307.6 421.0 312.1 425.5 316.5 430.2 320.8 435.2 325.1 440.3 329.2 445.5 333.2 451.0 337.1 456.5 340.9 462.2 344.5 468.1 348.0 474.0 351.3 480.0 354.4 486.1 357.3 492.3 360.1 498.5 362.7 504.7 365.1 511.0 367.3 517.3 369.3 523.5 371.1 529.8 372.6 536.0 374.0 542.1 375.2 548.2 376.1 554.2 376.8 560.1 377.3 565.9 377.6 571.6 377.7 577.2 377.6 582.7 377.3 588.0Z" fill="rgb(0,232,203)"/>
<path d="M261.3 523.3 260.8 388.8 265.5 391.0 270.1 393.4 274.8 396.1 279.5 399.0 284.2 402.2 288.9 405.6 293.6 409.2 298.2 413.1 302.8 417.2 307.3 421.5 311.8 426.0 316.2 430.7 320.5 435.6 324.7 440.7 328.9 445.9 332.9 451.3 336.7 456.9 340.5 462.6 344.1 468.4 347.5 474.3 350.8 480.2 353.9 486.3 356.8 492.4 359.6 498.6 362.2 504.8 364.6 511.1 366.7 517.3 368.7 523.5 370.5 529.7 372.1 535.9 373.4 542.0 374.6 548.1 375.5 554.1 376.2 559.9 376.8 565.7 377.1 571.4 377.1 576.9 377.0 582.4 376.7 587.6Z" fill="rgb(0,232,200)"/>
<path d="M261.3 523.3 260.8 389.5 265.4 391.7 270.1 394.1 274.8 396.7 279.4 399.6 284.1 402.8 288.8 406.2 293.4 409.8 298.0 413.7 302.6 417.7 307.1 422.0 311.5 426.5 315.9 431.2 320.2 436.1 324.4 441.1 328.5 446.3 332.5 451.7 336.3 457.2 340.0 462.9 343.6 468.6 347.0 474.5 350.3 480.5 353.4 486.5 356.3 492.6 359.1 498.8 361.6 504.9 364.0 511.1 366.2 517.3 368.2 523.5 369.9 529.7 371.5 535.8 372.8 541.9 374.0 548.0 374.9 553.9 375.6 559.8 376.2 565.5 376.5 571.2 376.6 576.7 376.4 582.1 376.1 587.3Z" fill="rgb(0,232,181)"/>
<path d="M261.3 523.3 260.8 390.2 265.4 392.3 270.0 394.7 274.7 397.4 279.3 400.3 284.0 403.4 288.6 406.8 293.2 410.4 297.8 414.2 302.4 418.3 306.9 422.5 311.3 427.0 315.6 431.7 319.9 436.5 324.1 441.6 328.1 446.8 332.1 452.1 335.9 457.6 339.6 463.2 343.2 468.9 346.6 474.8 349.8 480.7 352.9 486.7 355.8 492.8 358.6 498.9 361.1 505.0 363.5 511.2 365.6 517.4 367.6 523.5 369.4 529.7 370.9 535.8 372.3 541.8 373.4 547.8 374.3 553.7 375.1 559.6 375.6 565.3 375.9 570.9 376.0 576.4 375.8 581.8 375.5 587.0Z" fill="rgb(0,232,161)"/>
<path d="M261.3 523.3 260.8 390.8 265.4 393.0 270.0 395.4 274.6 398.0 279.2 400.9 283.9 404.0 288.5 407.4 293.1 411.0 297.6 414.8 302.2 418.8 306.6 423.1 311.0 427.5 315.3 432.2 319.6 437.0 323.7 442.0 327.8 447.2 331.7 452.5 335.5 457.9 339.2 463.5 342.8 469.2 346.1 475.0 349.4 480.9 352.4 486.9 355.3 492.9 358.1 499.0 360.6 505.1 362.9 511.3 365.1 517.4 367.0 523.5 368.8 529.6 370.3 535.7 371.7 541.7 372.8 547.7 373.7 553.6 374.5 559.4 375.0 565.1 375.3 570.7 375.4 576.1 375.3 581.5 375.0 586.6Z" fill="rgb(0,232,141)"/>
<path d="M261.3 523.3 260.8 391.5 265.4 393.7 270.0 396.0 274.5 398.7 279.1 401.5 283.8 404.6 288.3 408.0 292.9 411.6 297.4 415.4 301.9 419.4 306.4 423.6 310.8 428.0 315.1 432.6 319.3 437.4 323.4 442.4 327.4 447.6 331.4 452.9 335.1 458.3 338.8 463.8 342.3 469.5 345.7 475.3 348.9 481.1 352.0 487.1 354.8 493.1 357.5 499.1 360.1 505.2 362.4 511.3 364.5 517.4 366.5 523.5 368.2 529.6 369.8 535.6 371.1 541.6 372.2 547.6 373.2 553.4 373.9 559.2 374.4 564.9 374.7 570.4 374.8 575.9 374.7 581.2 374.4 586.3Z" fill="rgb(0,232,117)"/>
<path d="M261.3 523.3 260.8 392.2 265.4 394.3 269.9 396.7 274.5 399.3 279.1 402.2 283.6 405.3 288.2 408.6 292.7 412.2 297.3 415.9 301.7 419.9 306.1 424.1 310.5 428.5 314.8 433.1 319.0 437.9 323.1 442.9 327.1 448.0 331.0 453.2 334.7 458.6 338.4 464.2 341.9 469.8 345.2 475.5 348.4 481.4 351.5 487.3 354.3 493.3 357.0 499.3 359.5 505.3 361.9 511.4 364.0 517.5 365.9 523.5 367.7 529.6 369.2 535.6 370.5 541.5 371.7 547.4 372.6 553.3 373.3 559.0 373.8 564.6 374.1 570.2 374.2 575.6 374.1 580.9 373.8 586.0Z" fill="rgb(0,232,94)"/>
<path d="M261.3 523.3 260.8 392.9 265.3 395.0 269.9 397.4 274.4 400.0 279.0 402.8 283.5 405.9 288.1 409.2 292.6 412.7 297.1 416.5 301.5 420.5 305.9 424.7 310.2 429.0 314.5 433.6 318.7 438.4 322.8 443.3 326.7 448.4 330.6 453.6 334.4 459.0 338.0 464.5 341.5 470.1 344.8 475.8 348.0 481.6 351.0 487.5 353.8 493.4 356.5 499.4 359.0 505.4 361.3 511.4 363.4 517.5 365.4 523.5 367.1 529.5 368.6 535.5 369.9 541.4 371.1 547.3 372.0 553.1 372.7 558.8 373.2 564.4 373.5 569.9 373.6 575.3 373.5 580.6 373.2 585.7Z" fill="rgb(7,232,66)"/>
<path d="M261.3 523.3 260.8 393.5 265.3 395.7 269.8 398.0 274.3 400.6 278.9 403.4 283.4 406.5 287.9 409.8 292.4 413.3 296.9 417.1 301.3 421.0 305.7 425.2 310.0 429.5 314.2 434.1 318.4 438.8 322.4 443.7 326.4 448.8 330.2 454.0 334.0 459.3 337.6 464.8 341.0 470.4 344.3 476.1 347.5 481.8 350.5 487.7 353.3 493.6 356.0 499.5 358.5 505.5 360.8 511.5 362.9 517.5 364.8 523.5 366.5 529.5 368.0 535.4 369.4 541.3 370.5 547.2 371.4 552.9 372.1 558.6 372.6 564.2 372.9 569.7 373.0 575.0 372.9 580.3 372.6 585.4Z" fill="rgb(17,232,36)"/>
<path d="M261.3 523.3 260.8 394.2 265.3 396.3 269.8 398.7 274.3 401.2 278.8 404.1 283.3 407.1 287.8 410.4 292.2 413.9 296.7 417.6 301.1 421.6 305.4 425.7 309.7 430.0 313.9 434.6 318.1 439.3 322.1 444.1 326.0 449.2 329.9 454.4 333.6 459.7 337.1 465.1 340.6 470.7 343.9 476.3 347.0 482.0 350.0 487.9 352.8 493.7 355.5 499.7 358.0 505.6 360.2 511.6 362.3 517.6 364.2 523.5 366.0 529.5 367.5 535.4 368.8 541.3 369.9 547.1 370.8 552.8 371.5 558.4 372.0 564.0 372.3 569.4 372.4 574.8 372.3 580.0 372.0 585.0Z" fill="rgb(35,232,16)"/>
<path d="M261.3 523.3 260.8 394.9 265.3 397.0 269.7 399.3 274.2 401.9 278.7 404.7 283.2 407.7 287.6 411.0 292.1 414.5 296.5 418.2 300.9 422.1 305.2 426.2 309.4 430.5 313.6 435.0 317.7 439.7 321.8 444.6 325.7 449.6 329.5 454.7 333.2 460.0 336.7 465.4 340.2 470.9 343.4 476.6 346.6 482.3 349.5 488.1 352.3 493.9 355.0 499.8 357.4 505.7 359.7 511.6 361.8 517.6 363.7 523.5 365.4 529.4 366.9 535.3 368.2 541.2 369.3 546.9 370.2 552.6 370.9 558.3 371.4 563.8 371.7 569.2 371.8 574.5 371.8 579.7 371.5 584.7Z" fill="rgb(62,232,5)"/>
<path d="M261.3 523.3 260.8 395.6 265.3 397.7 269.7 400.0 274.1 402.5 278.6 405.3 283.0 408.4 287.5 411.6 291.9 415.1 296.3 418.8 300.7 422.7 305.0 426.8 309.2 431.0 313.4 435.5 317.4 440.2 321.4 445.0 325.3 450.0 329.1 455.1 332.8 460.4 336.3 465.7 339.7 471.2 343.0 476.8 346.1 482.5 349.1 488.2 351.8 494.1 354.5 499.9 356.9 505.8 359.2 511.7 361.2 517.6 363.1 523.5 364.8 529.4 366.3 535.3 367.6 541.1 368.7 546.8 369.6 552.5 370.3 558.1 370.9 563.6 371.2 568.9 371.3 574.2 371.2 579.4 370.9 584.4Z" fill="rgb(91,232,0)"/>
<path d="M261.3 523.3 260.8 396.2 265.2 398.3 269.6 400.6 274.1 403.2 278.5 406.0 282.9 409.0 287.4 412.2 291.8 415.7 296.1 419.3 300.4 423.2 304.7 427.3 308.9 431.6 313.1 436.0 317.1 440.6 321.1 445.4 325.0 450.4 328.7 455.5 332.4 460.7 335.9 466.1 339.3 471.5 342.5 477.1 345.6 482.7 348.6 488.4 351.3 494.2 354.0 500.0 356.4 505.9 358.6 511.8 360.7 517.6 362.6 523.5 364.3 529.4 365.8 535.2 367.1 541.0 368.2 546.7 369.1 552.3 369.8 557.9 370.3 563.3 370.6 568.7 370.7 574.0 370.6 579.1 370.3 584.1Z" fill="rgb(122,232,0)"/>
<path d="M261.3 523.3 260.8 396.9 265.2 399.0 269.6 401.3 274.0 403.8 278.4 406.6 282.8 409.6 287.2 412.8 291.6 416.2 295.9 419.9 300.2 423.7 304.5 427.8 308.7 432.1 312.8 436.5 316.8 441.1 320.8 445.9 324.6 450.8 328.4 455.8 332.0 461.0 335.5 466.4 338.9 471.8 342.1 477.3 345.2 482.9 348.1 488.6 350.9 494.4 353.4 500.2 355.9 506.0 358.1 511.8 360.2 517.7 362.0 523.5 363.7 529.3 365.2 535.1 366.5 540.9 367.6 546.5 368.5 552.2 369.2 557.7 369.7 563.1 370.0 568.5 370.1 573.7 370.0 578.8 369.7 583.7Z" fill="rgb(155,232,0)"/>
<path d="M261.3 523.3 260.9 397.6 265.2 399.6 269.6 401.9 273.9 404.5 278.3 407.2 282.7 410.2 287.1 413.4 291.4 416.8 295.7 420.5 300.0 424.3 304.2 428.3 308.4 432.6 312.5 437.0 316.5 441.5 320.4 446.3 324.3 451.2 328.0 456.2 331.6 461.4 335.1 466.7 338.4 472.1 341.6 477.6 344.7 483.2 347.6 488.8 350.4 494.5 352.9 500.3 355.3 506.1 357.6 511.9 359.6 517.7 361.5 523.5 363.1 529.3 364.6 535.1 365.9 540.8 367.0 546.4 367.9 552.0 368.6 557.5 369.1 562.9 369.4 568.2 369.5 573.4 369.4 578.5 369.1 583.4Z" fill="rgb(189,232,0)"/>
<path d="M261.3 523.3 260.9 398.3 265.2 400.3 269.5 402.6 273.9 405.1 278.2 407.8 282.6 410.8 286.9 414.0 291.3 417.4 295.6 421.0 299.8 424.8 304.0 428.8 308.2 433.1 312.2 437.4 316.2 442.0 320.1 446.7 323.9 451.6 327.6 456.6 331.2 461.7 334.7 467.0 338.0 472.4 341.2 477.8 344.2 483.4 347.1 489.0 349.9 494.7 352.4 500.4 354.8 506.2 357.0 512.0 359.1 517.7 360.9 523.5 362.6 529.3 364.1 535.0 365.3 540.7 366.4 546.3 367.3 551.8 368.0 557.3 368.5 562.7 368.8 568.0 368.9 573.1 368.8 578.2 368.6 583.1Z" fill="rgb(220,228,0)"/>
<path d="M261.3 523.3 260.9 398.9 265.1 401.0 269.5 403.2 273.8 405.7 278.1 408.5 282.5 411.4 286.8 414.6 291.1 418.0 295.4 421.6 299.6 425.4 303.8 429.4 307.9 433.5 311.9 437.9 315.9 442.4 319.8 447.1 323.6 452.0 327.3 457.0 330.8 462.1 334.3 467.3 337.6 472.7 340.8 478.1 343.8 483.6 346.7 489.2 349.4 494.9 351.9 500.5 354.3 506.3 356.5 512.0 358.5 517.8 360.4 523.5 362.0 529.2 363.5 534.9 364.8 540.6 365.8 546.2 366.7 551.7 367.4 557.1 367.9 562.5 368.2 567.7 368.3 572.9 368.3 577.9 368.0 582.8Z" fill="rgb(237,211,0)"/>
<path d="M261.3 523.3 260.9 399.6 265.1 401.6 269.4 403.9 273.7 406.4 278.0 409.1 282.4 412.0 286.7 415.2 290.9 418.6 295.2 422.1 299.4 425.9 303.5 429.9 307.6 434.0 311.7 438.4 315.6 442.9 319.5 447.6 323.2 452.4 326.9 457.3 330.4 462.4 333.9 467.6 337.2 472.9 340.3 478.3 343.3 483.8 346.2 489.4 348.9 495.0 351.4 500.7 353.8 506.4 356.0 512.1 358.0 517.8 359.8 523.5 361.5 529.2 362.9 534.9 364.2 540.5 365.3 546.0 366.2 551.5 366.8 556.9 367.3 562.3 367.6 567.5 367.8 572.6 367.7 577.6 367.4 582.4Z" fill="rgb(243,183,0)"/>
<path d="M261.3 523.3 260.9 400.3 265.1 402.3 269.4 404.5 273.7 407.0 278.0 409.7 282.2 412.6 286.5 415.8 290.8 419.1 295.0 422.7 299.2 426.5 303.3 430.4 307.4 434.5 311.4 438.9 315.3 443.3 319.1 448.0 322.9 452.8 326.5 457.7 330.0 462.8 333.5 467.9 336.7 473.2 339.9 478.6 342.9 484.1 345.7 489.6 348.4 495.2 350.9 500.8 353.3 506.5 355.4 512.1 357.4 517.8 359.3 523.5 360.9 529.2 362.4 534.8 363.6 540.4 364.7 545.9 365.6 551.4 366.3 556.8 366.8 562.1 367.1 567.2 367.2 572.3 367.1 577.3 366.8 582.1Z" fill="rgb(243,155,0)"/>
<path d="M261.3 523.3 260.9 400.9 265.1 402.9 269.3 405.2 273.6 407.7 277.9 410.3 282.1 413.3 286.4 416.4 290.6 419.7 294.8 423.3 299.0 427.0 303.1 430.9 307.1 435.0 311.1 439.3 315.0 443.8 318.8 448.4 322.5 453.2 326.2 458.1 329.7 463.1 333.0 468.3 336.3 473.5 339.4 478.8 342.4 484.3 345.2 489.8 347.9 495.3 350.4 500.9 352.7 506.6 354.9 512.2 356.9 517.9 358.7 523.5 360.3 529.1 361.8 534.7 363.0 540.3 364.1 545.8 365.0 551.2 365.7 556.6 366.2 561.8 366.5 567.0 366.6 572.1 366.5 577.0 366.3 581.8Z" fill="rgb(243,135,0)"/>
<path d="M261.3 523.3 145.5 588.6 149.8 591.4 154.4 594.1 159.1 596.7 164.1 599.2 169.4 601.6 174.8 603.9 180.4 606.0 186.2 608.0 192.1 609.8 198.2 611.5 204.5 613.0 210.8 614.4 217.3 615.6 223.9 616.6 230.6 617.5 237.4 618.2 244.2 618.7 251.1 619.0 257.9 619.2 264.8 619.2 271.7 619.0 278.6 618.6 285.4 618.0 292.1 617.3 298.8 616.4 305.4 615.3 311.9 614.1 318.3 612.7 324.6 611.1 330.7 609.4 336.6 607.6 342.4 605.6 348.0 603.4 353.4 601.1 358.6 598.7 363.6 596.2 368.4 593.5 373.0 590.8 377.3 588.0Z" fill="rgb(0,237,207)"/>
<path d="M261.3 523.3 146.1 588.2 150.4 591.1 154.9 593.8 159.7 596.4 164.6 598.8 169.8 601.2 175.2 603.5 180.8 605.6 186.5 607.5 192.5 609.3 198.5 611.0 204.8 612.5 211.1 613.9 217.6 615.1 224.1 616.1 230.8 617.0 237.5 617.7 244.3 618.2 251.1 618.5 258.0 618.7 264.8 618.7 271.7 618.5 278.5 618.1 285.3 617.5 292.0 616.8 298.6 615.9 305.2 614.9 311.7 613.6 318.0 612.2 324.2 610.7 330.3 609.0 336.2 607.1 342.0 605.1 347.6 603.0 353.0 600.7 358.1 598.3 363.1 595.8 367.9 593.2 372.4 590.5 376.7 587.6Z" fill="rgb(0,237,204)"/>
<path d="M261.3 523.3 146.7 587.9 150.9 590.7 155.4 593.4 160.2 596.0 165.1 598.5 170.3 600.8 175.7 603.0 181.2 605.1 186.9 607.1 192.8 608.9 198.9 610.6 205.1 612.1 211.4 613.4 217.8 614.6 224.3 615.6 231.0 616.5 237.6 617.2 244.4 617.7 251.2 618.0 258.0 618.2 264.8 618.2 271.6 618.0 278.4 617.6 285.1 617.0 291.8 616.3 298.4 615.4 305.0 614.4 311.4 613.2 317.7 611.8 323.9 610.2 330.0 608.5 335.9 606.7 341.6 604.7 347.1 602.6 352.5 600.3 357.6 597.9 362.6 595.4 367.3 592.8 371.8 590.1 376.1 587.3Z" fill="rgb(0,237,184)"/>
<path d="M261.3 523.3 147.2 587.6 151.5 590.4 156.0 593.0 160.7 595.6 165.6 598.1 170.8 600.4 176.1 602.6 181.6 604.7 187.3 606.6 193.2 608.4 199.2 610.1 205.4 611.6 211.6 612.9 218.0 614.1 224.5 615.1 231.1 616.0 237.8 616.7 244.5 617.2 251.2 617.5 258.0 617.7 264.8 617.6 271.5 617.5 278.3 617.1 285.0 616.5 291.7 615.8 298.2 614.9 304.7 613.9 311.1 612.7 317.4 611.3 323.6 609.8 329.6 608.1 335.5 606.3 341.2 604.3 346.7 602.2 352.0 599.9 357.1 597.6 362.1 595.1 366.8 592.5 371.3 589.8 375.5 587.0Z" fill="rgb(0,237,164)"/>
<path d="M261.3 523.3 147.8 587.3 152.1 590.0 156.5 592.7 161.2 595.2 166.1 597.7 171.2 600.0 176.5 602.2 182.0 604.3 187.7 606.2 193.5 608.0 199.5 609.6 205.6 611.1 211.9 612.5 218.3 613.6 224.7 614.7 231.3 615.5 237.9 616.2 244.6 616.7 251.3 617.0 258.0 617.2 264.8 617.1 271.5 617.0 278.2 616.6 284.9 616.0 291.5 615.3 298.0 614.5 304.5 613.4 310.9 612.2 317.1 610.8 323.3 609.3 329.2 607.6 335.1 605.8 340.7 603.9 346.2 601.8 351.5 599.5 356.6 597.2 361.6 594.7 366.2 592.1 370.7 589.4 375.0 586.6Z" fill="rgb(0,237,144)"/>
<path d="M261.3 523.3 148.4 586.9 152.6 589.7 157.1 592.3 161.7 594.9 166.6 597.3 171.7 599.6 177.0 601.8 182.5 603.9 188.1 605.8 193.9 607.6 199.9 609.2 205.9 610.7 212.2 612.0 218.5 613.2 224.9 614.2 231.4 615.0 238.0 615.7 244.7 616.2 251.3 616.5 258.0 616.7 264.7 616.6 271.4 616.5 278.1 616.1 284.8 615.6 291.3 614.8 297.9 614.0 304.3 612.9 310.6 611.7 316.8 610.4 322.9 608.9 328.9 607.2 334.7 605.4 340.3 603.4 345.8 601.3 351.1 599.1 356.2 596.8 361.0 594.3 365.7 591.8 370.1 589.1 374.4 586.3Z" fill="rgb(0,237,119)"/>
<path d="M261.3 523.3 149.0 586.6 153.2 589.3 157.6 592.0 162.3 594.5 167.1 596.9 172.2 599.2 177.4 601.4 182.9 603.4 188.5 605.3 194.3 607.1 200.2 608.7 206.2 610.2 212.4 611.5 218.7 612.7 225.1 613.7 231.6 614.5 238.1 615.2 244.7 615.7 251.4 616.0 258.1 616.2 264.7 616.1 271.4 616.0 278.0 615.6 284.6 615.1 291.2 614.4 297.7 613.5 304.1 612.5 310.4 611.3 316.5 609.9 322.6 608.4 328.5 606.7 334.3 604.9 339.9 603.0 345.3 600.9 350.6 598.7 355.7 596.4 360.5 594.0 365.2 591.4 369.6 588.8 373.8 586.0Z" fill="rgb(0,237,95)"/>
<path d="M261.3 523.3 149.6 586.3 153.8 589.0 158.2 591.6 162.8 594.1 167.6 596.5 172.6 598.8 177.9 601.0 183.3 603.0 188.9 604.9 194.6 606.7 200.5 608.3 206.5 609.7 212.7 611.0 219.0 612.2 225.3 613.2 231.8 614.0 238.3 614.7 244.8 615.2 251.4 615.5 258.1 615.7 264.7 615.6 271.3 615.5 277.9 615.1 284.5 614.6 291.0 613.9 297.5 613.0 303.8 612.0 310.1 610.8 316.2 609.4 322.3 607.9 328.2 606.3 333.9 604.5 339.5 602.6 344.9 600.5 350.1 598.3 355.2 596.0 360.0 593.6 364.6 591.1 369.0 588.4 373.2 585.7Z" fill="rgb(7,237,67)"/>
<path d="M261.3 523.3 150.2 586.0 154.3 588.6 158.7 591.3 163.3 593.7 168.1 596.1 173.1 598.4 178.3 600.6 183.7 602.6 189.3 604.5 195.0 606.2 200.8 607.8 206.8 609.3 212.9 610.6 219.2 611.7 225.5 612.7 231.9 613.5 238.4 614.2 244.9 614.7 251.5 615.0 258.1 615.2 264.7 615.1 271.3 615.0 277.8 614.6 284.4 614.1 290.9 613.4 297.3 612.5 303.6 611.5 309.8 610.3 315.9 609.0 321.9 607.5 327.8 605.9 333.5 604.1 339.1 602.2 344.5 600.1 349.7 597.9 354.7 595.6 359.5 593.2 364.1 590.7 368.5 588.1 372.6 585.4Z" fill="rgb(17,237,37)"/>
<path d="M261.3 523.3 150.7 585.6 154.9 588.3 159.2 590.9 163.8 593.4 168.6 595.8 173.6 598.0 178.8 600.1 184.1 602.2 189.6 604.0 195.3 605.8 201.2 607.4 207.1 608.8 213.2 610.1 219.4 611.2 225.7 612.2 232.1 613.0 238.5 613.7 245.0 614.2 251.5 614.5 258.1 614.7 264.7 614.6 271.2 614.5 277.8 614.1 284.3 613.6 290.7 612.9 297.1 612.0 303.4 611.0 309.6 609.8 315.7 608.5 321.6 607.0 327.5 605.4 333.1 603.6 338.7 601.7 344.0 599.7 349.2 597.5 354.2 595.3 359.0 592.9 363.5 590.3 367.9 587.7 372.0 585.0Z" fill="rgb(36,237,17)"/>
<path d="M261.3 523.3 151.3 585.3 155.4 588.0 159.8 590.5 164.3 593.0 169.1 595.4 174.1 597.6 179.2 599.7 184.5 601.7 190.0 603.6 195.7 605.3 201.5 606.9 207.4 608.3 213.5 609.6 219.6 610.8 225.9 611.7 232.2 612.6 238.6 613.2 245.1 613.7 251.6 614.0 258.1 614.2 264.6 614.1 271.2 614.0 277.7 613.6 284.1 613.1 290.5 612.4 296.9 611.6 303.1 610.5 309.3 609.4 315.4 608.1 321.3 606.6 327.1 605.0 332.7 603.2 338.2 601.3 343.6 599.3 348.7 597.1 353.7 594.9 358.4 592.5 363.0 590.0 367.3 587.4 371.5 584.7Z" fill="rgb(63,237,6)"/>
<path d="M261.3 523.3 151.9 585.0 156.0 587.6 160.3 590.2 164.8 592.6 169.6 595.0 174.5 597.2 179.6 599.3 184.9 601.3 190.4 603.2 196.0 604.9 201.8 606.5 207.7 607.9 213.7 609.2 219.9 610.3 226.1 611.3 232.4 612.1 238.8 612.7 245.2 613.2 251.7 613.5 258.1 613.7 264.6 613.6 271.1 613.5 277.6 613.1 284.0 612.6 290.4 611.9 296.7 611.1 302.9 610.1 309.0 608.9 315.1 607.6 321.0 606.1 326.7 604.5 332.4 602.8 337.8 600.9 343.1 598.9 348.3 596.7 353.2 594.5 357.9 592.1 362.5 589.6 366.8 587.1 370.9 584.4Z" fill="rgb(93,237,0)"/>
<path d="M261.3 523.3 152.5 584.6 156.6 587.3 160.9 589.8 165.4 592.3 170.1 594.6 175.0 596.8 180.1 598.9 185.4 600.9 190.8 602.7 196.4 604.4 202.1 606.0 208.0 607.4 214.0 608.7 220.1 609.8 226.3 610.8 232.6 611.6 238.9 612.2 245.3 612.7 251.7 613.0 258.2 613.2 264.6 613.1 271.1 613.0 277.5 612.6 283.9 612.1 290.2 611.4 296.5 610.6 302.7 609.6 308.8 608.4 314.8 607.1 320.6 605.7 326.4 604.1 332.0 602.4 337.4 600.5 342.7 598.5 347.8 596.4 352.7 594.1 357.4 591.7 361.9 589.3 366.2 586.7 370.3 584.1Z" fill="rgb(125,237,0)"/>
<path d="M261.3 523.3 153.0 584.3 157.1 586.9 161.4 589.5 165.9 591.9 170.6 594.2 175.5 596.4 180.5 598.5 185.8 600.5 191.2 602.3 196.7 604.0 202.5 605.6 208.3 607.0 214.3 608.2 220.3 609.3 226.5 610.3 232.7 611.1 239.0 611.7 245.4 612.2 251.8 612.5 258.2 612.7 264.6 612.7 271.0 612.5 277.4 612.1 283.8 611.6 290.1 610.9 296.3 610.1 302.5 609.1 308.5 608.0 314.5 606.7 320.3 605.2 326.0 603.6 331.6 601.9 337.0 600.1 342.2 598.1 347.3 596.0 352.2 593.7 356.9 591.4 361.4 588.9 365.7 586.4 369.7 583.7Z" fill="rgb(158,237,0)"/>
<path d="M261.3 523.3 153.6 584.0 157.7 586.6 161.9 589.1 166.4 591.5 171.1 593.8 175.9 596.0 181.0 598.1 186.2 600.0 191.6 601.9 197.1 603.6 202.8 605.1 208.6 606.5 214.5 607.8 220.5 608.9 226.7 609.8 232.9 610.6 239.1 611.2 245.5 611.7 251.8 612.0 258.2 612.2 264.6 612.2 271.0 612.0 277.3 611.6 283.6 611.1 289.9 610.5 296.1 609.6 302.2 608.6 308.3 607.5 314.2 606.2 320.0 604.8 325.7 603.2 331.2 601.5 336.6 599.6 341.8 597.7 346.9 595.6 351.7 593.3 356.4 591.0 360.8 588.6 365.1 586.0 369.1 583.4Z" fill="rgb(193,237,0)"/>
<path d="M261.3 523.3 154.2 583.7 158.2 586.3 162.5 588.8 166.9 591.2 171.5 593.4 176.4 595.6 181.4 597.7 186.6 599.6 191.9 601.4 197.5 603.1 203.1 604.6 208.9 606.0 214.8 607.3 220.8 608.4 226.9 609.3 233.0 610.1 239.3 610.8 245.5 611.2 251.9 611.5 258.2 611.7 264.6 611.7 270.9 611.5 277.2 611.1 283.5 610.6 289.7 610.0 295.9 609.1 302.0 608.2 308.0 607.0 313.9 605.8 319.7 604.3 325.3 602.8 330.8 601.1 336.2 599.2 341.4 597.3 346.4 595.2 351.2 593.0 355.9 590.6 360.3 588.2 364.5 585.7 368.6 583.1Z" fill="rgb(224,233,0)"/>
<path d="M261.3 523.3 154.8 583.3 158.8 585.9 163.0 588.4 167.4 590.8 172.0 593.1 176.8 595.2 181.8 597.3 187.0 599.2 192.3 601.0 197.8 602.7 203.4 604.2 209.2 605.6 215.0 606.8 221.0 607.9 227.1 608.9 233.2 609.6 239.4 610.3 245.6 610.7 251.9 611.0 258.2 611.2 264.5 611.2 270.8 611.0 277.1 610.6 283.4 610.1 289.6 609.5 295.7 608.7 301.8 607.7 307.7 606.6 313.6 605.3 319.3 603.9 325.0 602.3 330.4 600.6 335.8 598.8 340.9 596.9 345.9 594.8 350.7 592.6 355.3 590.3 359.8 587.9 364.0 585.4 368.0 582.8Z" fill="rgb(241,215,0)"/>
<path d="M261.3 523.3 155.4 583.0 159.3 585.6 163.5 588.0 167.9 590.4 172.5 592.7 177.3 594.8 182.3 596.9 187.4 598.8 192.7 600.6 198.2 602.2 203.7 603.7 209.5 605.1 215.3 606.4 221.2 607.4 227.2 608.4 233.3 609.2 239.5 609.8 245.7 610.2 252.0 610.5 258.2 610.7 264.5 610.7 270.8 610.5 277.0 610.2 283.3 609.7 289.4 609.0 295.5 608.2 301.5 607.2 307.5 606.1 313.3 604.8 319.0 603.4 324.6 601.9 330.1 600.2 335.4 598.4 340.5 596.4 345.5 594.4 350.2 592.2 354.8 589.9 359.2 587.5 363.4 585.0 367.4 582.4Z" fill="rgb(248,187,0)"/>
<path d="M261.3 523.3 155.9 582.7 159.9 585.2 164.1 587.7 168.4 590.0 173.0 592.3 177.8 594.4 182.7 596.5 187.8 598.4 193.1 600.1 198.5 601.8 204.1 603.3 209.7 604.7 215.5 605.9 221.4 607.0 227.4 607.9 233.5 608.7 239.6 609.3 245.8 609.7 252.0 610.1 258.3 610.2 264.5 610.2 270.7 610.0 277.0 609.7 283.1 609.2 289.3 608.5 295.3 607.7 301.3 606.8 307.2 605.6 313.0 604.4 318.7 603.0 324.3 601.5 329.7 599.8 334.9 598.0 340.1 596.0 345.0 594.0 349.8 591.8 354.3 589.5 358.7 587.2 362.9 584.7 366.8 582.1Z" fill="rgb(248,158,0)"/>
<path d="M261.3 523.3 156.5 582.4 160.4 584.9 164.6 587.3 169.0 589.7 173.5 591.9 178.2 594.0 183.2 596.1 188.2 597.9 193.5 599.7 198.9 601.3 204.4 602.8 210.0 604.2 215.8 605.4 221.7 606.5 227.6 607.4 233.7 608.2 239.8 608.8 245.9 609.3 252.1 609.6 258.3 609.7 264.5 609.7 270.7 609.5 276.9 609.2 283.0 608.7 289.1 608.0 295.1 607.2 301.1 606.3 307.0 605.2 312.7 603.9 318.4 602.5 323.9 601.0 329.3 599.3 334.5 597.6 339.6 595.6 344.5 593.6 349.3 591.4 353.8 589.2 358.2 586.8 362.3 584.4 366.3 581.8Z" fill="rgb(248,138,0)"/>
<clipPath id="b_clip"><path d="M260.9 401.6 256.7 403.6 252.4 405.9 248.2 408.4 244.0 411.1 239.7 414.0 235.5 417.1 231.3 420.5 227.2 424.0 223.1 427.8 219.0 431.7 215.0 435.8 211.0 440.1 207.2 444.6 203.4 449.2 199.7 453.9 196.2 458.8 192.7 463.8 189.4 469.0 186.2 474.2 183.1 479.5 180.2 485.0 177.4 490.4 174.8 496.0 172.3 501.6 170.0 507.2 167.9 512.8 165.9 518.4 164.2 524.0 162.6 529.7 161.2 535.2 160.0 540.8 159.0 546.2 158.1 551.6 157.5 557.0 157.0 562.2 156.8 567.3 156.7 572.4 156.8 577.3 157.1 582.0 161.0 584.6 165.1 587.0 169.5 589.3 174.0 591.5 178.7 593.6 183.6 595.6 188.6 597.5 193.9 599.3 199.2 600.9 204.7 602.4 210.3 603.8 216.1 605.0 221.9 606.0 227.8 606.9 233.8 607.7 239.9 608.3 246.0 608.8 252.1 609.1 258.3 609.2 264.5 609.2 270.6 609.0 276.8 608.7 282.9 608.2 288.9 607.6 294.9 606.8 300.9 605.8 306.7 604.7 312.4 603.5 318.1 602.1 323.6 600.6 328.9 598.9 334.1 597.1 339.2 595.2 344.1 593.2 348.8 591.1 353.3 588.8 357.6 586.5 361.8 584.0 365.7 581.5 365.9 576.7 366.0 571.8 365.9 566.8 365.6 561.6 365.1 556.4 364.4 551.1 363.5 545.7 362.5 540.2 361.2 534.7 359.8 529.1 358.2 523.5 356.4 517.9 354.4 512.3 352.2 506.7 349.9 501.1 347.4 495.5 344.7 490.0 341.9 484.5 339.0 479.1 335.9 473.8 332.6 468.6 329.3 463.4 325.8 458.4 322.2 453.6 318.5 448.8 314.7 444.2 310.8 439.8 306.9 435.5 302.8 431.4 298.7 427.5 294.6 423.8 290.4 420.3 286.2 417.0 282.0 413.9 277.8 411.0 273.5 408.3 269.3 405.8 265.1 403.6Z"/></clipPath>
<g clip-path="url(#b_clip)">
<linearGradient id="b_ig" gradientUnits="userSpaceOnUse" x1="186.7" y1="455.7" x2="334.2" y2="560.0">
<stop offset="0" stop-color="#963700"/><stop offset="0.48" stop-color="#c84900"/><stop offset="0.78" stop-color="#fa5c00"/><stop offset="1" stop-color="#ff5e00"/></linearGradient>
<radialGradient id="b_h1" gradientUnits="userSpaceOnUse" cx="249.2" cy="546.6" r="23"><stop offset="0" stop-color="#ff600a"/><stop offset="0.45" stop-color="#ff600a" stop-opacity="0.95"/><stop offset="1" stop-color="#ff600a" stop-opacity="0"/></radialGradient>
<radialGradient id="b_h2" gradientUnits="userSpaceOnUse" cx="320.5" cy="479.0" r="23"><stop offset="0" stop-color="#ff5f04"/><stop offset="0.5" stop-color="#ff5f04" stop-opacity="0.85"/><stop offset="1" stop-color="#ff5f04" stop-opacity="0"/></radialGradient>
<rect x="100" y="360" width="330" height="330" fill="url(#b_ig)"/>
<circle cx="249.2" cy="546.6" r="23" fill="url(#b_h1)"/><circle cx="320.5" cy="479.0" r="23" fill="url(#b_h2)"/>
<path d="M340.6 634.5 338.9 635.8 337.1 636.9 335.2 637.9 333.3 638.8 331.4 639.7 329.5 640.5 327.5 641.2 325.4 641.8 323.4 642.3 321.3 642.7 319.2 643.1 317.0 643.4 314.9 643.6 312.7 643.7 310.5 643.7 308.3 643.6 306.0 643.5 303.7 643.3 301.5 643.0 299.2 642.6 296.9 642.2 294.5 641.7 292.2 641.1 289.9 640.4 287.5 639.7 285.2 638.8 282.8 638.0 280.5 637.0 278.1 636.0 275.8 634.9 273.4 633.7 271.1 632.5 268.7 631.2 266.4 629.9 264.0 628.5 261.7 627.0 259.4 625.5 257.1 623.9 254.8 622.2 252.5 620.5 250.3 618.7 248.0 616.9 245.8 615.1 243.5 613.1 241.3 611.2 239.2 609.2 237.0 607.1 234.8 605.0 232.7 602.8 230.6 600.6 228.6 598.4 226.5 596.1 224.5 593.8 222.5 591.4 220.5 589.0 218.6 586.6 216.7 584.1 214.8 581.6 212.9 579.0 211.1 576.4 209.3 573.8 207.6 571.2 205.9 568.6 204.2 565.9 202.5 563.2 200.9 560.4 199.3 557.7 197.8 554.9 196.3 552.1 194.9 549.3 193.4 546.4 192.1 543.6 190.7 540.7 189.4 537.8 188.2 534.9 187.0 532.0 185.8 529.1 184.7 526.2 183.6 523.3 182.6 520.4 181.6 517.4 180.7 514.5 179.8 511.5 179.0 508.6 178.2 505.7 177.5 502.7 176.8 499.8 176.2 496.9 175.6 494.0 175.1 491.1 174.6 488.2 174.2 485.3 173.8 482.5 173.5 479.6 173.2 476.8 173.0 474.0 172.8 471.2 172.7 468.4 172.7 465.7 172.7 463.0 172.8 460.3 172.9 457.6 173.1 455.0 173.4 452.4 173.7 449.8 174.0 447.3 174.4 444.8 174.9 442.3 175.4 439.9 176.0 437.5 176.7 435.2 177.4 432.9 178.2 430.6 179.0 428.5 179.9 426.3 180.8 424.2 181.9 422.2 182.9 420.2 184.0 418.3 185.2 416.4 186.5 414.6 187.8 412.9 189.1 411.2 190.5 409.6 192.0 408.1 193.5 406.6 195.1 405.2 196.8 403.9 198.5 402.7 200.2 401.5 202.0 400.4 203.9 399.4 205.8 398.4 207.7 397.6" fill="none" stroke="#000" stroke-opacity="0.90" stroke-width="0.70"/>
<path d="M125.5 537.8 125.3 535.7 125.2 533.7 125.2 531.7 125.3 529.6 125.4 527.6 125.7 525.6 126.1 523.6 126.6 521.7 127.1 519.7 127.7 517.7 128.5 515.8 129.3 513.9 130.2 512.0 131.1 510.1 132.2 508.2 133.3 506.4 134.5 504.6 135.8 502.8 137.2 501.0 138.6 499.2 140.2 497.5 141.7 495.8 143.4 494.1 145.1 492.5 146.9 490.9 148.8 489.3 150.7 487.7 152.7 486.2 154.7 484.7 156.8 483.3 159.0 481.8 161.2 480.4 163.4 479.1 165.7 477.7 168.1 476.5 170.5 475.2 173.0 474.0 175.5 472.8 178.1 471.6 180.7 470.5 183.3 469.4 186.0 468.4 188.7 467.4 191.4 466.4 194.2 465.5 197.1 464.6 199.9 463.8 202.8 463.0 205.7 462.2 208.6 461.5 211.6 460.8 214.6 460.2 217.6 459.5 220.6 459.0 223.7 458.5 226.8 458.0 229.8 457.5 232.9 457.1 236.1 456.8 239.2 456.4 242.3 456.2 245.5 455.9 248.6 455.7 251.8 455.6 254.9 455.5 258.1 455.4 261.3 455.4 264.5 455.4 267.6 455.4 270.8 455.5 273.9 455.7 277.1 455.8 280.2 456.1 283.4 456.3 286.5 456.6 289.6 457.0 292.7 457.3 295.8 457.8 298.9 458.2 301.9 458.7 305.0 459.3 308.0 459.9 311.0 460.5 313.9 461.2 316.9 461.9 319.8 462.6 322.7 463.4 325.5 464.3 328.4 465.1 331.2 466.0 333.9 467.0 336.6 468.0 339.3 469.0 341.9 470.1 344.5 471.2 347.1 472.3 349.6 473.5 352.1 474.7 354.5 475.9 356.9 477.2 359.2 478.5 361.5 479.9 363.7 481.2 365.8 482.7 367.9 484.1 370.0 485.6 372.0 487.1 373.9 488.7 375.7 490.2 377.5 491.8 379.3 493.5 380.9 495.1 382.5 496.8 384.0 498.5 385.5 500.3 386.8 502.0 388.1 503.8 389.4 505.7 390.5 507.5 391.6 509.4 392.5 511.2 393.4 513.1 394.2 515.0 395.0 517.0 395.6 518.9 396.2 520.9 396.6 522.9 397.0 524.9 397.3 526.9 397.5 528.9 397.6 530.9 397.6 532.9 397.5 535.0 397.3 537.0" fill="none" stroke="#000" stroke-opacity="0.90" stroke-width="0.70"/>
<path d="M314.2 397.3 316.2 398.1 318.1 399.0 319.9 400.0 321.8 401.1 323.5 402.3 325.2 403.5 326.9 404.8 328.5 406.2 330.0 407.7 331.5 409.2 332.9 410.8 334.3 412.5 335.6 414.2 336.9 416.0 338.1 417.8 339.2 419.8 340.3 421.7 341.4 423.8 342.3 425.8 343.2 428.0 344.1 430.2 344.9 432.4 345.6 434.7 346.3 437.0 346.9 439.4 347.5 441.8 348.0 444.3 348.4 446.7 348.8 449.3 349.1 451.8 349.4 454.4 349.6 457.1 349.7 459.7 349.8 462.4 349.8 465.2 349.8 467.9 349.8 470.7 349.6 473.5 349.4 476.3 349.2 479.1 348.9 482.0 348.5 484.8 348.1 487.7 347.7 490.6 347.2 493.5 346.6 496.4 346.0 499.3 345.3 502.3 344.6 505.2 343.9 508.1 343.0 511.1 342.2 514.0 341.3 517.0 340.3 519.9 339.3 522.8 338.2 525.8 337.2 528.7 336.0 531.6 334.8 534.5 333.6 537.4 332.3 540.3 331.0 543.2 329.6 546.0 328.2 548.9 326.8 551.7 325.3 554.5 323.8 557.3 322.2 560.1 320.6 562.8 319.0 565.6 317.3 568.2 315.6 570.9 313.9 573.6 312.1 576.2 310.3 578.8 308.5 581.3 306.6 583.8 304.7 586.3 302.8 588.8 300.8 591.2 298.8 593.6 296.8 595.9 294.8 598.2 292.7 600.5 290.6 602.7 288.5 604.8 286.4 607.0 284.2 609.0 282.1 611.1 279.9 613.0 277.6 615.0 275.4 616.9 273.2 618.7 270.9 620.5 268.6 622.2 266.3 623.8 264.0 625.4 261.7 627.0 259.4 628.5 257.1 629.9 254.7 631.3 252.4 632.6 250.0 633.8 247.7 635.0 245.3 636.1 243.0 637.1 240.6 638.1 238.3 639.0 235.9 639.8 233.6 640.5 231.2 641.2 228.9 641.8 226.6 642.4 224.3 642.8 222.0 643.2 219.7 643.5 217.4 643.7 215.2 643.9 212.9 643.9 210.7 643.9 208.5 643.8 206.3 643.7 204.2 643.4 202.1 643.1 200.0 642.6 197.9 642.1 195.9 641.5 193.9 640.8 191.9 640.1 190.0 639.2 188.1 638.3 186.2 637.3 184.4 636.2 182.6 635.0" fill="none" stroke="#000" stroke-opacity="0.90" stroke-width="0.70"/>
</g>
<path d="M260.9 401.6 256.7 403.6 252.4 405.9 248.2 408.4 244.0 411.1 239.7 414.0 235.5 417.1 231.3 420.5 227.2 424.0 223.1 427.8 219.0 431.7 215.0 435.8 211.0 440.1 207.2 444.6 203.4 449.2 199.7 453.9 196.2 458.8 192.7 463.8 189.4 469.0 186.2 474.2 183.1 479.5 180.2 485.0 177.4 490.4 174.8 496.0 172.3 501.6 170.0 507.2 167.9 512.8 165.9 518.4 164.2 524.0 162.6 529.7 161.2 535.2 160.0 540.8 159.0 546.2 158.1 551.6 157.5 557.0 157.0 562.2 156.8 567.3 156.7 572.4 156.8 577.3 157.1 582.0 161.0 584.6 165.1 587.0 169.5 589.3 174.0 591.5 178.7 593.6 183.6 595.6 188.6 597.5 193.9 599.3 199.2 600.9 204.7 602.4 210.3 603.8 216.1 605.0 221.9 606.0 227.8 606.9 233.8 607.7 239.9 608.3 246.0 608.8 252.1 609.1 258.3 609.2 264.5 609.2 270.6 609.0 276.8 608.7 282.9 608.2 288.9 607.6 294.9 606.8 300.9 605.8 306.7 604.7 312.4 603.5 318.1 602.1 323.6 600.6 328.9 598.9 334.1 597.1 339.2 595.2 344.1 593.2 348.8 591.1 353.3 588.8 357.6 586.5 361.8 584.0 365.7 581.5 365.9 576.7 366.0 571.8 365.9 566.8 365.6 561.6 365.1 556.4 364.4 551.1 363.5 545.7 362.5 540.2 361.2 534.7 359.8 529.1 358.2 523.5 356.4 517.9 354.4 512.3 352.2 506.7 349.9 501.1 347.4 495.5 344.7 490.0 341.9 484.5 339.0 479.1 335.9 473.8 332.6 468.6 329.3 463.4 325.8 458.4 322.2 453.6 318.5 448.8 314.7 444.2 310.8 439.8 306.9 435.5 302.8 431.4 298.7 427.5 294.6 423.8 290.4 420.3 286.2 417.0 282.0 413.9 277.8 411.0 273.5 408.3 269.3 405.8 265.1 403.6Z" fill="none" stroke="#000" stroke-opacity="0.90" stroke-width="0.70"/>
<path d="M260.8 388.1 256.2 390.3 251.5 392.8 246.7 395.5 242.0 398.5 237.3 401.7 232.6 405.1 227.9 408.8 223.3 412.7 218.7 416.9 214.1 421.2 209.7 425.8 205.3 430.6 201.0 435.5 196.7 440.6 192.6 445.9 188.6 451.4 184.8 457.0 181.1 462.7 177.5 468.5 174.0 474.5 170.8 480.5 167.7 486.6 164.8 492.8 162.0 499.1 159.5 505.3 157.1 511.6 155.0 517.9 153.0 524.1 151.3 530.4 149.8 536.6 148.4 542.7 147.3 548.8 146.4 554.8 145.7 560.8 145.3 566.6 145.0 572.3 145.0 577.9 145.1 583.3 145.5 588.6 149.8 591.4 154.4 594.1 159.1 596.7 164.1 599.2 169.4 601.6 174.8 603.9 180.4 606.0 186.2 608.0 192.1 609.8 198.2 611.5 204.5 613.0 210.8 614.4 217.3 615.6 223.9 616.6 230.6 617.5 237.4 618.2 244.2 618.7 251.1 619.0 257.9 619.2 264.8 619.2 271.7 619.0 278.6 618.6 285.4 618.0 292.1 617.3 298.8 616.4 305.4 615.3 311.9 614.1 318.3 612.7 324.6 611.1 330.7 609.4 336.6 607.6 342.4 605.6 348.0 603.4 353.4 601.1 358.6 598.7 363.6 596.2 368.4 593.5 373.0 590.8 377.3 588.0 377.6 582.7 377.7 577.2 377.6 571.6 377.3 565.9 376.8 560.1 376.1 554.2 375.2 548.2 374.0 542.1 372.6 536.0 371.1 529.8 369.3 523.5 367.3 517.3 365.1 511.0 362.7 504.7 360.1 498.5 357.3 492.3 354.4 486.1 351.3 480.0 348.0 474.0 344.5 468.1 340.9 462.2 337.1 456.5 333.2 451.0 329.2 445.5 325.1 440.3 320.8 435.2 316.5 430.2 312.1 425.5 307.6 421.0 303.0 416.6 298.4 412.5 293.7 408.6 289.0 405.0 284.3 401.5 279.6 398.4 274.9 395.4 270.2 392.7 265.5 390.3Z" fill="none" stroke="#000" stroke-opacity="0.90" stroke-width="0.70"/>
</g>
<clipPath id="ib_r"><rect x="319.80" y="369.30" width="117.90" height="122.00"/></clipPath>
<clipPath id="ib_o"><circle cx="162.37" cy="625.26" r="326.27"/></clipPath>
<clipPath id="ib_i"><path clip-rule="evenodd" d="M-100 -100H900V900H-100Z M-638.76 845.08 a573.98 573.98 0 1 0 1147.96 0 a573.98 573.98 0 1 0 -1147.96 0Z"/></clipPath>
<g clip-path="url(#ib_r)"><g clip-path="url(#ib_o)"><g clip-path="url(#ib_i)">
<circle cx="162.37" cy="625.26" r="326.27" fill="rgb(0,215,185)"/>
<circle cx="128.30" cy="658.23" r="363.43" fill="rgb(0,215,135)"/>
<circle cx="98.77" cy="686.81" r="395.63" fill="rgb(0,215,80)"/>
<circle cx="71.51" cy="713.19" r="425.35" fill="rgb(20,215,20)"/>
<circle cx="48.79" cy="735.17" r="450.12" fill="rgb(70,215,0)"/>
<circle cx="26.08" cy="757.15" r="474.90" fill="rgb(125,215,0)"/>
<circle cx="5.63" cy="776.94" r="497.19" fill="rgb(175,215,0)"/>
<circle cx="-10.27" cy="792.33" r="514.53" fill="rgb(215,210,0)"/>
<circle cx="-26.17" cy="807.71" r="531.87" fill="rgb(225,175,0)"/>
<circle cx="-42.07" cy="823.10" r="549.21" fill="rgb(225,130,0)"/>
</g></g>
<circle cx="162.37" cy="625.26" r="324.87" fill="none" stroke="#000" stroke-width="2.8"/>
<circle cx="-64.78" cy="845.08" r="574.28" fill="none" stroke="#000" stroke-width="2.2"/>
</g>
<rect x="329.10" y="460.80" width="18.60" height="17.00" fill="none" stroke="#fff" stroke-width="1.3"/>
<path d="M329.10 460.80L319.80 419.00 M347.70 477.80L387.20 491.30" stroke="#fff" stroke-width="1.3" fill="none"/>
<path d="M173.60 608.60L215.86 611.58" stroke="#fff" stroke-width="1.50"/><path d="M221.80 612.00L213.05 615.19L215.86 611.58L213.59 607.61Z" fill="#fff"/>
<rect x="18.50" y="367.40" width="84.72" height="179.40" fill="#fff" stroke="#2a2a2a" stroke-width="0.9"/>
<text x="60.71" y="386.82" font-size="9.92" text-anchor="middle" class="sans">hydrostatic</text>
<text x="60.71" y="397.81" font-size="9.92" text-anchor="middle" class="sans" style="white-space:pre">pressure  [MPa]</text>
<rect x="28.98" y="412.35" width="15.56" height="10.37" fill="rgb(245,0,0)" stroke="#222" stroke-width="0.4"/>
<rect x="28.98" y="422.72" width="15.56" height="10.37" fill="rgb(250,100,0)" stroke="#222" stroke-width="0.4"/>
<rect x="28.98" y="433.10" width="15.56" height="10.37" fill="rgb(255,185,0)" stroke="#222" stroke-width="0.4"/>
<rect x="28.98" y="443.47" width="15.56" height="10.37" fill="rgb(200,255,0)" stroke="#222" stroke-width="0.4"/>
<rect x="28.98" y="453.84" width="15.56" height="10.37" fill="rgb(130,230,0)" stroke="#222" stroke-width="0.4"/>
<rect x="28.98" y="464.22" width="15.56" height="10.37" fill="rgb(40,240,0)" stroke="#222" stroke-width="0.4"/>
<rect x="28.98" y="474.59" width="15.56" height="10.37" fill="rgb(0,225,30)" stroke="#222" stroke-width="0.4"/>
<rect x="28.98" y="484.97" width="15.56" height="10.37" fill="rgb(0,235,140)" stroke="#222" stroke-width="0.4"/>
<rect x="28.98" y="495.34" width="15.56" height="10.37" fill="rgb(0,255,235)" stroke="#222" stroke-width="0.4"/>
<rect x="28.98" y="505.71" width="15.56" height="10.37" fill="rgb(0,185,215)" stroke="#222" stroke-width="0.4"/>
<rect x="28.98" y="516.09" width="15.56" height="10.37" fill="rgb(0,95,230)" stroke="#222" stroke-width="0.4"/>
<rect x="28.98" y="526.46" width="15.56" height="10.37" fill="rgb(0,0,175)" stroke="#222" stroke-width="0.4"/>
<path d="M44.54 412.35h5.29" stroke="#222" stroke-width="0.6"/>
<path d="M44.54 422.72h5.29" stroke="#222" stroke-width="0.6"/>
<path d="M44.54 433.10h5.29" stroke="#222" stroke-width="0.6"/>
<path d="M44.54 443.47h5.29" stroke="#222" stroke-width="0.6"/>
<path d="M44.54 453.84h5.29" stroke="#222" stroke-width="0.6"/>
<path d="M44.54 464.22h5.29" stroke="#222" stroke-width="0.6"/>
<path d="M44.54 474.59h5.29" stroke="#222" stroke-width="0.6"/>
<path d="M44.54 484.97h5.29" stroke="#222" stroke-width="0.6"/>
<path d="M44.54 495.34h5.29" stroke="#222" stroke-width="0.6"/>
<path d="M44.54 505.71h5.29" stroke="#222" stroke-width="0.6"/>
<path d="M44.54 516.09h5.29" stroke="#222" stroke-width="0.6"/>
<path d="M44.54 526.46h5.29" stroke="#222" stroke-width="0.6"/>
<path d="M44.54 536.83h5.29" stroke="#222" stroke-width="0.6"/>
<text x="69.55" y="415.00" font-size="9.92" text-anchor="middle" class="sans">700</text>
<text x="69.55" y="430.56" font-size="9.92" text-anchor="middle" class="sans">525</text>
<text x="69.55" y="446.12" font-size="9.92" text-anchor="middle" class="sans">350</text>
<text x="69.55" y="461.68" font-size="9.92" text-anchor="middle" class="sans">175</text>
<text x="69.55" y="477.24" font-size="9.92" text-anchor="middle" class="sans">0</text>
<text x="67.93" y="492.80" font-size="9.92" text-anchor="middle" class="sans">-175</text>
<text x="67.93" y="508.36" font-size="9.92" text-anchor="middle" class="sans">-350</text>
<text x="67.93" y="523.92" font-size="9.92" text-anchor="middle" class="sans">-525</text>
<text x="67.93" y="539.48" font-size="9.92" text-anchor="middle" class="sans">-700</text>
<rect x="42.10" y="552.50" width="126.50" height="109.20" fill="#fff" stroke="#b0b0b0" stroke-width="1"/>
<path d="M48.30 608.60H162.40" stroke="#d0d0d0" stroke-width="0.8"/>
<path d="M48.3 575.4 49.3 576.2 50.2 577.0 51.2 577.8 52.1 578.6 53.1 579.4 54.0 580.2 55.0 581.0 55.9 581.8 56.9 582.5 57.8 583.3 58.8 584.0 59.7 584.8 60.7 585.5 61.6 586.2 62.6 586.9 63.5 587.6 64.5 588.3 65.4 589.0 66.4 589.6 67.3 590.3 68.3 591.0 69.2 591.6 70.2 592.2 71.1 592.9 72.1 593.5 73.0 594.1 74.0 594.7 74.9 595.3 75.9 595.9 76.8 596.5 77.8 597.1 78.7 597.6 79.7 598.2 80.6 598.8 81.6 599.3 82.5 599.9 83.5 600.4 84.4 600.9 85.4 601.4 86.3 602.0 87.3 602.5 88.2 603.0 89.2 603.5 90.1 604.0 91.1 604.4 92.0 604.9 93.0 605.4 93.9 605.9 94.9 606.3 95.8 606.8 96.8 607.2 97.7 607.7 98.7 608.1 99.6 608.5 100.6 609.0 101.5 609.4 102.5 609.8 103.4 610.2 104.4 610.6 105.3 611.0 106.3 611.4 107.3 611.8 108.2 612.2 109.2 612.6 110.1 613.0 111.1 613.3 112.0 613.7 113.0 614.1 113.9 614.4 114.9 614.8 115.8 615.1 116.8 615.5 117.7 615.8 118.7 616.2 119.6 616.5 120.6 616.8 121.5 617.1 122.5 617.5 123.4 617.8 124.4 618.1 125.3 618.4 126.3 618.7 127.2 619.0 128.2 619.3 129.1 619.6 130.1 619.9 131.0 620.2 132.0 620.5 132.9 620.7 133.9 621.0 134.8 621.3 135.8 621.6 136.7 621.8 137.7 622.1 138.6 622.4 139.6 622.6 140.5 622.9 141.5 623.1 142.4 623.4 143.4 623.6 144.3 623.8 145.3 624.1 146.2 624.3 147.2 624.5 148.1 624.8 149.1 625.0 150.0 625.2 151.0 625.4 151.9 625.7 152.9 625.9 153.8 626.1 154.8 626.3 155.7 626.5 156.7 626.7 157.6 626.9 158.6 627.1 159.5 627.3 160.5 627.5 161.4 627.7 162.4 627.9" fill="none" stroke="#111" stroke-width="1.05" stroke-dasharray="2.6 1.3"/>
<text x="40.70" y="558.80" font-size="8.90" text-anchor="end" class="dserif">800</text>
<text x="40.70" y="585.40" font-size="8.90" text-anchor="end" class="dserif">400</text>
<text x="40.70" y="612.00" font-size="8.90" text-anchor="end" class="dserif">0</text>
<text x="40.70" y="638.60" font-size="8.90" text-anchor="end" class="dserif">−400</text>
<text x="40.70" y="665.20" font-size="8.90" text-anchor="end" class="dserif">−800</text>
<text x="48.30" y="672.00" font-size="8.90" text-anchor="middle" class="dserif">3.0</text>
<text x="86.33" y="672.00" font-size="8.90" text-anchor="middle" class="dserif">3.1</text>
<text x="124.37" y="672.00" font-size="8.90" text-anchor="middle" class="dserif">3.2</text>
<text x="162.40" y="672.00" font-size="8.90" text-anchor="middle" class="dserif">3.3</text>
<text x="105.35" y="682.30" font-size="10.4" text-anchor="middle" class="dserif"><tspan font-style="italic" font-family="'DejaVu Sans','Liberation Sans',sans-serif">r</tspan> [m]</text>
<text transform="translate(10.20 609.00) rotate(-90)" font-size="10.8" text-anchor="middle" class="dserif">hydrostatic pressure [MPa]</text>
<text x="220.9" y="706.9" font-size="17.5" text-anchor="middle" class="lserif">(b)</text>
</svg>
</body></html>
